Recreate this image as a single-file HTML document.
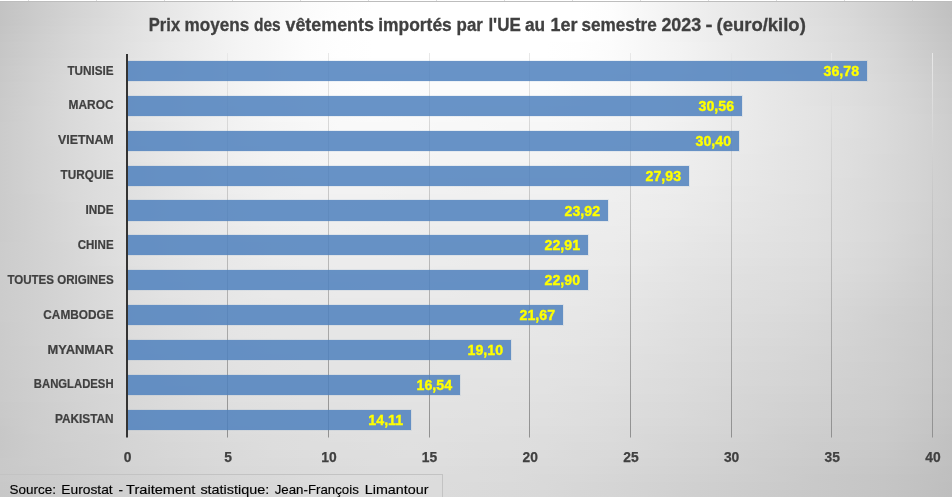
<!DOCTYPE html>
<html><head><meta charset="utf-8"><title>Chart</title>
<style>
html,body{margin:0;padding:0;background:#fff;}
body{width:952px;height:497px;overflow:hidden;font-family:"Liberation Sans",sans-serif;}
svg{display:block;}
text{font-family:"Liberation Sans",sans-serif;}
.t{font-weight:bold;font-size:17.6px;fill:#404040;stroke:#404040;stroke-width:0.3px;}
.c{font-weight:bold;font-size:12.1px;fill:#404040;stroke:#404040;stroke-width:0.2px;}
.d{font-weight:bold;font-size:14.2px;fill:#ffff00;stroke:#ffff00;stroke-width:0.35px;}
.a{font-weight:bold;font-size:13.8px;fill:#404040;stroke:#404040;stroke-width:0.25px;}
.s{font-size:13.4px;fill:#000;stroke:#000;stroke-width:0.15px;}
</style></head><body>
<svg width="952" height="497" viewBox="0 0 952 497">
<defs>
<radialGradient id="bg" gradientUnits="userSpaceOnUse" cx="0" cy="0" r="1" gradientTransform="translate(445 70) scale(560 900)">
<stop offset="0" stop-color="#ffffff"/><stop offset="0.2" stop-color="#ffffff"/><stop offset="0.8" stop-color="#c0c0c0"/><stop offset="1" stop-color="#b4b4b4"/>
</radialGradient>
<linearGradient id="gl" gradientUnits="userSpaceOnUse" x1="0" y1="53" x2="0" y2="437">
<stop offset="0" stop-color="#e8e8e8"/><stop offset="1" stop-color="#909090"/>
</linearGradient>
</defs>
<rect x="0" y="0" width="952" height="497" fill="#ffffff"/>
<defs>
<linearGradient id="b0" gradientUnits="userSpaceOnUse" x1="0" y1="0" x2="952" y2="0"><stop offset="0.0000" stop-color="#c2c2c2"/><stop offset="0.0357" stop-color="#cacaca"/><stop offset="0.0714" stop-color="#d2d2d2"/><stop offset="0.1071" stop-color="#d9d9d9"/><stop offset="0.1429" stop-color="#e0e0e0"/><stop offset="0.1786" stop-color="#e7e7e7"/><stop offset="0.2143" stop-color="#ededed"/><stop offset="0.2500" stop-color="#f3f3f3"/><stop offset="0.2857" stop-color="#f7f7f7"/><stop offset="0.3214" stop-color="#fbfbfb"/><stop offset="0.3571" stop-color="#fdfdfd"/><stop offset="0.3929" stop-color="#ffffff"/><stop offset="0.4286" stop-color="#ffffff"/><stop offset="0.4643" stop-color="#ffffff"/><stop offset="0.5000" stop-color="#ffffff"/><stop offset="0.5357" stop-color="#ffffff"/><stop offset="0.5714" stop-color="#ffffff"/><stop offset="0.6071" stop-color="#ffffff"/><stop offset="0.6429" stop-color="#fcfcfc"/><stop offset="0.6786" stop-color="#f6f6f6"/><stop offset="0.7143" stop-color="#f0f0f0"/><stop offset="0.7500" stop-color="#ebebeb"/><stop offset="0.7857" stop-color="#e7e7e7"/><stop offset="0.8214" stop-color="#e2e2e2"/><stop offset="0.8571" stop-color="#dddddd"/><stop offset="0.8929" stop-color="#d7d7d7"/><stop offset="0.9286" stop-color="#d0d0d0"/><stop offset="0.9643" stop-color="#c8c8c8"/><stop offset="1.0000" stop-color="#c0c0c0"/></linearGradient>
<linearGradient id="b1" gradientUnits="userSpaceOnUse" x1="0" y1="0" x2="952" y2="0"><stop offset="0.0000" stop-color="#c3c3c3"/><stop offset="0.0357" stop-color="#cbcbcb"/><stop offset="0.0714" stop-color="#d2d2d2"/><stop offset="0.1071" stop-color="#d9d9d9"/><stop offset="0.1429" stop-color="#e1e1e1"/><stop offset="0.1786" stop-color="#e7e7e7"/><stop offset="0.2143" stop-color="#eeeeee"/><stop offset="0.2500" stop-color="#f3f3f3"/><stop offset="0.2857" stop-color="#f8f8f8"/><stop offset="0.3214" stop-color="#fbfbfb"/><stop offset="0.3571" stop-color="#fefefe"/><stop offset="0.3929" stop-color="#ffffff"/><stop offset="0.4286" stop-color="#ffffff"/><stop offset="0.4643" stop-color="#ffffff"/><stop offset="0.5000" stop-color="#ffffff"/><stop offset="0.5357" stop-color="#ffffff"/><stop offset="0.5714" stop-color="#ffffff"/><stop offset="0.6071" stop-color="#ffffff"/><stop offset="0.6429" stop-color="#fdfdfd"/><stop offset="0.6786" stop-color="#f7f7f7"/><stop offset="0.7143" stop-color="#f1f1f1"/><stop offset="0.7500" stop-color="#ececec"/><stop offset="0.7857" stop-color="#e7e7e7"/><stop offset="0.8214" stop-color="#e2e2e2"/><stop offset="0.8571" stop-color="#dddddd"/><stop offset="0.8929" stop-color="#d8d8d8"/><stop offset="0.9286" stop-color="#d1d1d1"/><stop offset="0.9643" stop-color="#c9c9c9"/><stop offset="1.0000" stop-color="#c1c1c1"/></linearGradient>
<linearGradient id="b2" gradientUnits="userSpaceOnUse" x1="0" y1="0" x2="952" y2="0"><stop offset="0.0000" stop-color="#c3c3c3"/><stop offset="0.0357" stop-color="#cbcbcb"/><stop offset="0.0714" stop-color="#d3d3d3"/><stop offset="0.1071" stop-color="#dadada"/><stop offset="0.1429" stop-color="#e1e1e1"/><stop offset="0.1786" stop-color="#e8e8e8"/><stop offset="0.2143" stop-color="#eeeeee"/><stop offset="0.2500" stop-color="#f3f3f3"/><stop offset="0.2857" stop-color="#f8f8f8"/><stop offset="0.3214" stop-color="#fcfcfc"/><stop offset="0.3571" stop-color="#fefefe"/><stop offset="0.3929" stop-color="#ffffff"/><stop offset="0.4286" stop-color="#ffffff"/><stop offset="0.4643" stop-color="#ffffff"/><stop offset="0.5000" stop-color="#ffffff"/><stop offset="0.5357" stop-color="#ffffff"/><stop offset="0.5714" stop-color="#ffffff"/><stop offset="0.6071" stop-color="#ffffff"/><stop offset="0.6429" stop-color="#fdfdfd"/><stop offset="0.6786" stop-color="#f7f7f7"/><stop offset="0.7143" stop-color="#f1f1f1"/><stop offset="0.7500" stop-color="#ececec"/><stop offset="0.7857" stop-color="#e8e8e8"/><stop offset="0.8214" stop-color="#e3e3e3"/><stop offset="0.8571" stop-color="#dedede"/><stop offset="0.8929" stop-color="#d9d9d9"/><stop offset="0.9286" stop-color="#d2d2d2"/><stop offset="0.9643" stop-color="#cacaca"/><stop offset="1.0000" stop-color="#c2c2c2"/></linearGradient>
<linearGradient id="b3" gradientUnits="userSpaceOnUse" x1="0" y1="0" x2="952" y2="0"><stop offset="0.0000" stop-color="#c4c4c4"/><stop offset="0.0357" stop-color="#cccccc"/><stop offset="0.0714" stop-color="#d4d4d4"/><stop offset="0.1071" stop-color="#dbdbdb"/><stop offset="0.1429" stop-color="#e2e2e2"/><stop offset="0.1786" stop-color="#e8e8e8"/><stop offset="0.2143" stop-color="#eeeeee"/><stop offset="0.2500" stop-color="#f3f3f3"/><stop offset="0.2857" stop-color="#f8f8f8"/><stop offset="0.3214" stop-color="#fcfcfc"/><stop offset="0.3571" stop-color="#fefefe"/><stop offset="0.3929" stop-color="#ffffff"/><stop offset="0.4286" stop-color="#ffffff"/><stop offset="0.4643" stop-color="#ffffff"/><stop offset="0.5000" stop-color="#ffffff"/><stop offset="0.5357" stop-color="#ffffff"/><stop offset="0.5714" stop-color="#ffffff"/><stop offset="0.6071" stop-color="#ffffff"/><stop offset="0.6429" stop-color="#fdfdfd"/><stop offset="0.6786" stop-color="#f7f7f7"/><stop offset="0.7143" stop-color="#f2f2f2"/><stop offset="0.7500" stop-color="#ededed"/><stop offset="0.7857" stop-color="#e8e8e8"/><stop offset="0.8214" stop-color="#e3e3e3"/><stop offset="0.8571" stop-color="#dfdfdf"/><stop offset="0.8929" stop-color="#dadada"/><stop offset="0.9286" stop-color="#d3d3d3"/><stop offset="0.9643" stop-color="#cbcbcb"/><stop offset="1.0000" stop-color="#c3c3c3"/></linearGradient>
<linearGradient id="b4" gradientUnits="userSpaceOnUse" x1="0" y1="0" x2="952" y2="0"><stop offset="0.0000" stop-color="#c5c5c5"/><stop offset="0.0357" stop-color="#cdcdcd"/><stop offset="0.0714" stop-color="#d5d5d5"/><stop offset="0.1071" stop-color="#dcdcdc"/><stop offset="0.1429" stop-color="#e2e2e2"/><stop offset="0.1786" stop-color="#e8e8e8"/><stop offset="0.2143" stop-color="#eeeeee"/><stop offset="0.2500" stop-color="#f4f4f4"/><stop offset="0.2857" stop-color="#f8f8f8"/><stop offset="0.3214" stop-color="#fcfcfc"/><stop offset="0.3571" stop-color="#fefefe"/><stop offset="0.3929" stop-color="#ffffff"/><stop offset="0.4286" stop-color="#ffffff"/><stop offset="0.4643" stop-color="#ffffff"/><stop offset="0.5000" stop-color="#ffffff"/><stop offset="0.5357" stop-color="#ffffff"/><stop offset="0.5714" stop-color="#ffffff"/><stop offset="0.6071" stop-color="#ffffff"/><stop offset="0.6429" stop-color="#fcfcfc"/><stop offset="0.6786" stop-color="#f7f7f7"/><stop offset="0.7143" stop-color="#f2f2f2"/><stop offset="0.7500" stop-color="#ededed"/><stop offset="0.7857" stop-color="#e9e9e9"/><stop offset="0.8214" stop-color="#e4e4e4"/><stop offset="0.8571" stop-color="#dfdfdf"/><stop offset="0.8929" stop-color="#dadada"/><stop offset="0.9286" stop-color="#d4d4d4"/><stop offset="0.9643" stop-color="#cccccc"/><stop offset="1.0000" stop-color="#c4c4c4"/></linearGradient>
<linearGradient id="b5" gradientUnits="userSpaceOnUse" x1="0" y1="0" x2="952" y2="0"><stop offset="0.0000" stop-color="#c6c6c6"/><stop offset="0.0357" stop-color="#cecece"/><stop offset="0.0714" stop-color="#d5d5d5"/><stop offset="0.1071" stop-color="#dcdcdc"/><stop offset="0.1429" stop-color="#e3e3e3"/><stop offset="0.1786" stop-color="#e9e9e9"/><stop offset="0.2143" stop-color="#eeeeee"/><stop offset="0.2500" stop-color="#f4f4f4"/><stop offset="0.2857" stop-color="#f8f8f8"/><stop offset="0.3214" stop-color="#fcfcfc"/><stop offset="0.3571" stop-color="#fefefe"/><stop offset="0.3929" stop-color="#ffffff"/><stop offset="0.4286" stop-color="#ffffff"/><stop offset="0.4643" stop-color="#ffffff"/><stop offset="0.5000" stop-color="#ffffff"/><stop offset="0.5357" stop-color="#ffffff"/><stop offset="0.5714" stop-color="#ffffff"/><stop offset="0.6071" stop-color="#fefefe"/><stop offset="0.6429" stop-color="#fcfcfc"/><stop offset="0.6786" stop-color="#f7f7f7"/><stop offset="0.7143" stop-color="#f3f3f3"/><stop offset="0.7500" stop-color="#eeeeee"/><stop offset="0.7857" stop-color="#e9e9e9"/><stop offset="0.8214" stop-color="#e4e4e4"/><stop offset="0.8571" stop-color="#e0e0e0"/><stop offset="0.8929" stop-color="#dbdbdb"/><stop offset="0.9286" stop-color="#d5d5d5"/><stop offset="0.9643" stop-color="#cdcdcd"/><stop offset="1.0000" stop-color="#c5c5c5"/></linearGradient>
<linearGradient id="b6" gradientUnits="userSpaceOnUse" x1="0" y1="0" x2="952" y2="0"><stop offset="0.0000" stop-color="#c6c6c6"/><stop offset="0.0357" stop-color="#cecece"/><stop offset="0.0714" stop-color="#d6d6d6"/><stop offset="0.1071" stop-color="#dddddd"/><stop offset="0.1429" stop-color="#e3e3e3"/><stop offset="0.1786" stop-color="#e9e9e9"/><stop offset="0.2143" stop-color="#efefef"/><stop offset="0.2500" stop-color="#f4f4f4"/><stop offset="0.2857" stop-color="#f8f8f8"/><stop offset="0.3214" stop-color="#fcfcfc"/><stop offset="0.3571" stop-color="#fefefe"/><stop offset="0.3929" stop-color="#ffffff"/><stop offset="0.4286" stop-color="#ffffff"/><stop offset="0.4643" stop-color="#ffffff"/><stop offset="0.5000" stop-color="#ffffff"/><stop offset="0.5357" stop-color="#ffffff"/><stop offset="0.5714" stop-color="#ffffff"/><stop offset="0.6071" stop-color="#fefefe"/><stop offset="0.6429" stop-color="#fbfbfb"/><stop offset="0.6786" stop-color="#f7f7f7"/><stop offset="0.7143" stop-color="#f3f3f3"/><stop offset="0.7500" stop-color="#eeeeee"/><stop offset="0.7857" stop-color="#e9e9e9"/><stop offset="0.8214" stop-color="#e5e5e5"/><stop offset="0.8571" stop-color="#e0e0e0"/><stop offset="0.8929" stop-color="#dcdcdc"/><stop offset="0.9286" stop-color="#d6d6d6"/><stop offset="0.9643" stop-color="#cecece"/><stop offset="1.0000" stop-color="#c7c7c7"/></linearGradient>
<linearGradient id="b7" gradientUnits="userSpaceOnUse" x1="0" y1="0" x2="952" y2="0"><stop offset="0.0000" stop-color="#c7c7c7"/><stop offset="0.0357" stop-color="#cfcfcf"/><stop offset="0.0714" stop-color="#d7d7d7"/><stop offset="0.1071" stop-color="#dedede"/><stop offset="0.1429" stop-color="#e4e4e4"/><stop offset="0.1786" stop-color="#e9e9e9"/><stop offset="0.2143" stop-color="#efefef"/><stop offset="0.2500" stop-color="#f4f4f4"/><stop offset="0.2857" stop-color="#f8f8f8"/><stop offset="0.3214" stop-color="#fcfcfc"/><stop offset="0.3571" stop-color="#fdfdfd"/><stop offset="0.3929" stop-color="#fefefe"/><stop offset="0.4286" stop-color="#fefefe"/><stop offset="0.4643" stop-color="#fefefe"/><stop offset="0.5000" stop-color="#fefefe"/><stop offset="0.5357" stop-color="#fefefe"/><stop offset="0.5714" stop-color="#fefefe"/><stop offset="0.6071" stop-color="#fdfdfd"/><stop offset="0.6429" stop-color="#fbfbfb"/><stop offset="0.6786" stop-color="#f7f7f7"/><stop offset="0.7143" stop-color="#f3f3f3"/><stop offset="0.7500" stop-color="#eeeeee"/><stop offset="0.7857" stop-color="#eaeaea"/><stop offset="0.8214" stop-color="#e5e5e5"/><stop offset="0.8571" stop-color="#e1e1e1"/><stop offset="0.8929" stop-color="#dddddd"/><stop offset="0.9286" stop-color="#d7d7d7"/><stop offset="0.9643" stop-color="#cfcfcf"/><stop offset="1.0000" stop-color="#c8c8c8"/></linearGradient>
<linearGradient id="b8" gradientUnits="userSpaceOnUse" x1="0" y1="0" x2="952" y2="0"><stop offset="0.0000" stop-color="#c8c8c8"/><stop offset="0.0357" stop-color="#d0d0d0"/><stop offset="0.0714" stop-color="#d7d7d7"/><stop offset="0.1071" stop-color="#dedede"/><stop offset="0.1429" stop-color="#e4e4e4"/><stop offset="0.1786" stop-color="#e9e9e9"/><stop offset="0.2143" stop-color="#efefef"/><stop offset="0.2500" stop-color="#f4f4f4"/><stop offset="0.2857" stop-color="#f8f8f8"/><stop offset="0.3214" stop-color="#fbfbfb"/><stop offset="0.3571" stop-color="#fdfdfd"/><stop offset="0.3929" stop-color="#fefefe"/><stop offset="0.4286" stop-color="#fefefe"/><stop offset="0.4643" stop-color="#fdfdfd"/><stop offset="0.5000" stop-color="#fdfdfd"/><stop offset="0.5357" stop-color="#fdfdfd"/><stop offset="0.5714" stop-color="#fdfdfd"/><stop offset="0.6071" stop-color="#fcfcfc"/><stop offset="0.6429" stop-color="#fafafa"/><stop offset="0.6786" stop-color="#f7f7f7"/><stop offset="0.7143" stop-color="#f3f3f3"/><stop offset="0.7500" stop-color="#eeeeee"/><stop offset="0.7857" stop-color="#eaeaea"/><stop offset="0.8214" stop-color="#e5e5e5"/><stop offset="0.8571" stop-color="#e1e1e1"/><stop offset="0.8929" stop-color="#dddddd"/><stop offset="0.9286" stop-color="#d7d7d7"/><stop offset="0.9643" stop-color="#d0d0d0"/><stop offset="1.0000" stop-color="#c9c9c9"/></linearGradient>
<linearGradient id="b9" gradientUnits="userSpaceOnUse" x1="0" y1="0" x2="952" y2="0"><stop offset="0.0000" stop-color="#c8c8c8"/><stop offset="0.0357" stop-color="#d0d0d0"/><stop offset="0.0714" stop-color="#d8d8d8"/><stop offset="0.1071" stop-color="#dfdfdf"/><stop offset="0.1429" stop-color="#e4e4e4"/><stop offset="0.1786" stop-color="#eaeaea"/><stop offset="0.2143" stop-color="#efefef"/><stop offset="0.2500" stop-color="#f4f4f4"/><stop offset="0.2857" stop-color="#f8f8f8"/><stop offset="0.3214" stop-color="#fbfbfb"/><stop offset="0.3571" stop-color="#fdfdfd"/><stop offset="0.3929" stop-color="#fdfdfd"/><stop offset="0.4286" stop-color="#fdfdfd"/><stop offset="0.4643" stop-color="#fdfdfd"/><stop offset="0.5000" stop-color="#fcfcfc"/><stop offset="0.5357" stop-color="#fdfdfd"/><stop offset="0.5714" stop-color="#fcfcfc"/><stop offset="0.6071" stop-color="#fbfbfb"/><stop offset="0.6429" stop-color="#f9f9f9"/><stop offset="0.6786" stop-color="#f6f6f6"/><stop offset="0.7143" stop-color="#f2f2f2"/><stop offset="0.7500" stop-color="#eeeeee"/><stop offset="0.7857" stop-color="#eaeaea"/><stop offset="0.8214" stop-color="#e6e6e6"/><stop offset="0.8571" stop-color="#e2e2e2"/><stop offset="0.8929" stop-color="#dedede"/><stop offset="0.9286" stop-color="#d8d8d8"/><stop offset="0.9643" stop-color="#d1d1d1"/><stop offset="1.0000" stop-color="#cacaca"/></linearGradient>
<linearGradient id="b10" gradientUnits="userSpaceOnUse" x1="0" y1="0" x2="952" y2="0"><stop offset="0.0000" stop-color="#c9c9c9"/><stop offset="0.0357" stop-color="#d1d1d1"/><stop offset="0.0714" stop-color="#d8d8d8"/><stop offset="0.1071" stop-color="#dfdfdf"/><stop offset="0.1429" stop-color="#e5e5e5"/><stop offset="0.1786" stop-color="#eaeaea"/><stop offset="0.2143" stop-color="#efefef"/><stop offset="0.2500" stop-color="#f3f3f3"/><stop offset="0.2857" stop-color="#f7f7f7"/><stop offset="0.3214" stop-color="#fafafa"/><stop offset="0.3571" stop-color="#fcfcfc"/><stop offset="0.3929" stop-color="#fdfdfd"/><stop offset="0.4286" stop-color="#fcfcfc"/><stop offset="0.4643" stop-color="#fcfcfc"/><stop offset="0.5000" stop-color="#fcfcfc"/><stop offset="0.5357" stop-color="#fcfcfc"/><stop offset="0.5714" stop-color="#fcfcfc"/><stop offset="0.6071" stop-color="#fafafa"/><stop offset="0.6429" stop-color="#f8f8f8"/><stop offset="0.6786" stop-color="#f6f6f6"/><stop offset="0.7143" stop-color="#f2f2f2"/><stop offset="0.7500" stop-color="#eeeeee"/><stop offset="0.7857" stop-color="#eaeaea"/><stop offset="0.8214" stop-color="#e6e6e6"/><stop offset="0.8571" stop-color="#e2e2e2"/><stop offset="0.8929" stop-color="#dedede"/><stop offset="0.9286" stop-color="#d9d9d9"/><stop offset="0.9643" stop-color="#d2d2d2"/><stop offset="1.0000" stop-color="#cbcbcb"/></linearGradient>
<linearGradient id="b11" gradientUnits="userSpaceOnUse" x1="0" y1="0" x2="952" y2="0"><stop offset="0.0000" stop-color="#c9c9c9"/><stop offset="0.0357" stop-color="#d1d1d1"/><stop offset="0.0714" stop-color="#d9d9d9"/><stop offset="0.1071" stop-color="#dfdfdf"/><stop offset="0.1429" stop-color="#e5e5e5"/><stop offset="0.1786" stop-color="#eaeaea"/><stop offset="0.2143" stop-color="#efefef"/><stop offset="0.2500" stop-color="#f3f3f3"/><stop offset="0.2857" stop-color="#f7f7f7"/><stop offset="0.3214" stop-color="#fafafa"/><stop offset="0.3571" stop-color="#fbfbfb"/><stop offset="0.3929" stop-color="#fcfcfc"/><stop offset="0.4286" stop-color="#fcfcfc"/><stop offset="0.4643" stop-color="#fbfbfb"/><stop offset="0.5000" stop-color="#fbfbfb"/><stop offset="0.5357" stop-color="#fbfbfb"/><stop offset="0.5714" stop-color="#fbfbfb"/><stop offset="0.6071" stop-color="#f9f9f9"/><stop offset="0.6429" stop-color="#f7f7f7"/><stop offset="0.6786" stop-color="#f5f5f5"/><stop offset="0.7143" stop-color="#f2f2f2"/><stop offset="0.7500" stop-color="#eeeeee"/><stop offset="0.7857" stop-color="#eaeaea"/><stop offset="0.8214" stop-color="#e6e6e6"/><stop offset="0.8571" stop-color="#e2e2e2"/><stop offset="0.8929" stop-color="#dedede"/><stop offset="0.9286" stop-color="#d9d9d9"/><stop offset="0.9643" stop-color="#d2d2d2"/><stop offset="1.0000" stop-color="#cbcbcb"/></linearGradient>
<linearGradient id="b12" gradientUnits="userSpaceOnUse" x1="0" y1="0" x2="952" y2="0"><stop offset="0.0000" stop-color="#cacaca"/><stop offset="0.0357" stop-color="#d1d1d1"/><stop offset="0.0714" stop-color="#d9d9d9"/><stop offset="0.1071" stop-color="#dfdfdf"/><stop offset="0.1429" stop-color="#e5e5e5"/><stop offset="0.1786" stop-color="#eaeaea"/><stop offset="0.2143" stop-color="#eeeeee"/><stop offset="0.2500" stop-color="#f3f3f3"/><stop offset="0.2857" stop-color="#f7f7f7"/><stop offset="0.3214" stop-color="#f9f9f9"/><stop offset="0.3571" stop-color="#fbfbfb"/><stop offset="0.3929" stop-color="#fbfbfb"/><stop offset="0.4286" stop-color="#fbfbfb"/><stop offset="0.4643" stop-color="#fafafa"/><stop offset="0.5000" stop-color="#fafafa"/><stop offset="0.5357" stop-color="#fafafa"/><stop offset="0.5714" stop-color="#fafafa"/><stop offset="0.6071" stop-color="#f8f8f8"/><stop offset="0.6429" stop-color="#f6f6f6"/><stop offset="0.6786" stop-color="#f4f4f4"/><stop offset="0.7143" stop-color="#f1f1f1"/><stop offset="0.7500" stop-color="#eeeeee"/><stop offset="0.7857" stop-color="#eaeaea"/><stop offset="0.8214" stop-color="#e6e6e6"/><stop offset="0.8571" stop-color="#e2e2e2"/><stop offset="0.8929" stop-color="#dedede"/><stop offset="0.9286" stop-color="#d9d9d9"/><stop offset="0.9643" stop-color="#d3d3d3"/><stop offset="1.0000" stop-color="#cccccc"/></linearGradient>
<linearGradient id="b13" gradientUnits="userSpaceOnUse" x1="0" y1="0" x2="952" y2="0"><stop offset="0.0000" stop-color="#cacaca"/><stop offset="0.0357" stop-color="#d2d2d2"/><stop offset="0.0714" stop-color="#d9d9d9"/><stop offset="0.1071" stop-color="#dfdfdf"/><stop offset="0.1429" stop-color="#e5e5e5"/><stop offset="0.1786" stop-color="#eaeaea"/><stop offset="0.2143" stop-color="#eeeeee"/><stop offset="0.2500" stop-color="#f2f2f2"/><stop offset="0.2857" stop-color="#f6f6f6"/><stop offset="0.3214" stop-color="#f9f9f9"/><stop offset="0.3571" stop-color="#fafafa"/><stop offset="0.3929" stop-color="#fafafa"/><stop offset="0.4286" stop-color="#fafafa"/><stop offset="0.4643" stop-color="#fafafa"/><stop offset="0.5000" stop-color="#f9f9f9"/><stop offset="0.5357" stop-color="#f9f9f9"/><stop offset="0.5714" stop-color="#f9f9f9"/><stop offset="0.6071" stop-color="#f7f7f7"/><stop offset="0.6429" stop-color="#f6f6f6"/><stop offset="0.6786" stop-color="#f4f4f4"/><stop offset="0.7143" stop-color="#f1f1f1"/><stop offset="0.7500" stop-color="#eeeeee"/><stop offset="0.7857" stop-color="#eaeaea"/><stop offset="0.8214" stop-color="#e6e6e6"/><stop offset="0.8571" stop-color="#e3e3e3"/><stop offset="0.8929" stop-color="#dfdfdf"/><stop offset="0.9286" stop-color="#dadada"/><stop offset="0.9643" stop-color="#d3d3d3"/><stop offset="1.0000" stop-color="#cccccc"/></linearGradient>
<linearGradient id="b14" gradientUnits="userSpaceOnUse" x1="0" y1="0" x2="952" y2="0"><stop offset="0.0000" stop-color="#cacaca"/><stop offset="0.0357" stop-color="#d2d2d2"/><stop offset="0.0714" stop-color="#d9d9d9"/><stop offset="0.1071" stop-color="#dfdfdf"/><stop offset="0.1429" stop-color="#e5e5e5"/><stop offset="0.1786" stop-color="#eaeaea"/><stop offset="0.2143" stop-color="#eeeeee"/><stop offset="0.2500" stop-color="#f2f2f2"/><stop offset="0.2857" stop-color="#f6f6f6"/><stop offset="0.3214" stop-color="#f8f8f8"/><stop offset="0.3571" stop-color="#f9f9f9"/><stop offset="0.3929" stop-color="#fafafa"/><stop offset="0.4286" stop-color="#f9f9f9"/><stop offset="0.4643" stop-color="#f9f9f9"/><stop offset="0.5000" stop-color="#f8f8f8"/><stop offset="0.5357" stop-color="#f8f8f8"/><stop offset="0.5714" stop-color="#f8f8f8"/><stop offset="0.6071" stop-color="#f7f7f7"/><stop offset="0.6429" stop-color="#f5f5f5"/><stop offset="0.6786" stop-color="#f3f3f3"/><stop offset="0.7143" stop-color="#f1f1f1"/><stop offset="0.7500" stop-color="#ededed"/><stop offset="0.7857" stop-color="#eaeaea"/><stop offset="0.8214" stop-color="#e6e6e6"/><stop offset="0.8571" stop-color="#e3e3e3"/><stop offset="0.8929" stop-color="#dfdfdf"/><stop offset="0.9286" stop-color="#dadada"/><stop offset="0.9643" stop-color="#d4d4d4"/><stop offset="1.0000" stop-color="#cdcdcd"/></linearGradient>
<linearGradient id="b15" gradientUnits="userSpaceOnUse" x1="0" y1="0" x2="952" y2="0"><stop offset="0.0000" stop-color="#cbcbcb"/><stop offset="0.0357" stop-color="#d2d2d2"/><stop offset="0.0714" stop-color="#d9d9d9"/><stop offset="0.1071" stop-color="#dfdfdf"/><stop offset="0.1429" stop-color="#e4e4e4"/><stop offset="0.1786" stop-color="#e9e9e9"/><stop offset="0.2143" stop-color="#eeeeee"/><stop offset="0.2500" stop-color="#f2f2f2"/><stop offset="0.2857" stop-color="#f5f5f5"/><stop offset="0.3214" stop-color="#f7f7f7"/><stop offset="0.3571" stop-color="#f9f9f9"/><stop offset="0.3929" stop-color="#f9f9f9"/><stop offset="0.4286" stop-color="#f9f9f9"/><stop offset="0.4643" stop-color="#f8f8f8"/><stop offset="0.5000" stop-color="#f8f8f8"/><stop offset="0.5357" stop-color="#f7f7f7"/><stop offset="0.5714" stop-color="#f7f7f7"/><stop offset="0.6071" stop-color="#f6f6f6"/><stop offset="0.6429" stop-color="#f4f4f4"/><stop offset="0.6786" stop-color="#f3f3f3"/><stop offset="0.7143" stop-color="#f0f0f0"/><stop offset="0.7500" stop-color="#ededed"/><stop offset="0.7857" stop-color="#eaeaea"/><stop offset="0.8214" stop-color="#e6e6e6"/><stop offset="0.8571" stop-color="#e3e3e3"/><stop offset="0.8929" stop-color="#dfdfdf"/><stop offset="0.9286" stop-color="#dadada"/><stop offset="0.9643" stop-color="#d4d4d4"/><stop offset="1.0000" stop-color="#cdcdcd"/></linearGradient>
<linearGradient id="b16" gradientUnits="userSpaceOnUse" x1="0" y1="0" x2="952" y2="0"><stop offset="0.0000" stop-color="#cbcbcb"/><stop offset="0.0357" stop-color="#d2d2d2"/><stop offset="0.0714" stop-color="#d9d9d9"/><stop offset="0.1071" stop-color="#dfdfdf"/><stop offset="0.1429" stop-color="#e4e4e4"/><stop offset="0.1786" stop-color="#e9e9e9"/><stop offset="0.2143" stop-color="#ededed"/><stop offset="0.2500" stop-color="#f1f1f1"/><stop offset="0.2857" stop-color="#f4f4f4"/><stop offset="0.3214" stop-color="#f7f7f7"/><stop offset="0.3571" stop-color="#f8f8f8"/><stop offset="0.3929" stop-color="#f8f8f8"/><stop offset="0.4286" stop-color="#f8f8f8"/><stop offset="0.4643" stop-color="#f7f7f7"/><stop offset="0.5000" stop-color="#f7f7f7"/><stop offset="0.5357" stop-color="#f7f7f7"/><stop offset="0.5714" stop-color="#f6f6f6"/><stop offset="0.6071" stop-color="#f5f5f5"/><stop offset="0.6429" stop-color="#f4f4f4"/><stop offset="0.6786" stop-color="#f2f2f2"/><stop offset="0.7143" stop-color="#f0f0f0"/><stop offset="0.7500" stop-color="#ededed"/><stop offset="0.7857" stop-color="#e9e9e9"/><stop offset="0.8214" stop-color="#e6e6e6"/><stop offset="0.8571" stop-color="#e2e2e2"/><stop offset="0.8929" stop-color="#dfdfdf"/><stop offset="0.9286" stop-color="#dadada"/><stop offset="0.9643" stop-color="#d4d4d4"/><stop offset="1.0000" stop-color="#cecece"/></linearGradient>
<linearGradient id="b17" gradientUnits="userSpaceOnUse" x1="0" y1="0" x2="952" y2="0"><stop offset="0.0000" stop-color="#cbcbcb"/><stop offset="0.0357" stop-color="#d2d2d2"/><stop offset="0.0714" stop-color="#d9d9d9"/><stop offset="0.1071" stop-color="#dfdfdf"/><stop offset="0.1429" stop-color="#e4e4e4"/><stop offset="0.1786" stop-color="#e9e9e9"/><stop offset="0.2143" stop-color="#ededed"/><stop offset="0.2500" stop-color="#f1f1f1"/><stop offset="0.2857" stop-color="#f4f4f4"/><stop offset="0.3214" stop-color="#f6f6f6"/><stop offset="0.3571" stop-color="#f7f7f7"/><stop offset="0.3929" stop-color="#f7f7f7"/><stop offset="0.4286" stop-color="#f7f7f7"/><stop offset="0.4643" stop-color="#f6f6f6"/><stop offset="0.5000" stop-color="#f6f6f6"/><stop offset="0.5357" stop-color="#f6f6f6"/><stop offset="0.5714" stop-color="#f5f5f5"/><stop offset="0.6071" stop-color="#f4f4f4"/><stop offset="0.6429" stop-color="#f3f3f3"/><stop offset="0.6786" stop-color="#f1f1f1"/><stop offset="0.7143" stop-color="#efefef"/><stop offset="0.7500" stop-color="#ececec"/><stop offset="0.7857" stop-color="#e9e9e9"/><stop offset="0.8214" stop-color="#e6e6e6"/><stop offset="0.8571" stop-color="#e2e2e2"/><stop offset="0.8929" stop-color="#dedede"/><stop offset="0.9286" stop-color="#dadada"/><stop offset="0.9643" stop-color="#d4d4d4"/><stop offset="1.0000" stop-color="#cecece"/></linearGradient>
<linearGradient id="b18" gradientUnits="userSpaceOnUse" x1="0" y1="0" x2="952" y2="0"><stop offset="0.0000" stop-color="#cbcbcb"/><stop offset="0.0357" stop-color="#d2d2d2"/><stop offset="0.0714" stop-color="#d8d8d8"/><stop offset="0.1071" stop-color="#dedede"/><stop offset="0.1429" stop-color="#e3e3e3"/><stop offset="0.1786" stop-color="#e8e8e8"/><stop offset="0.2143" stop-color="#ededed"/><stop offset="0.2500" stop-color="#f0f0f0"/><stop offset="0.2857" stop-color="#f3f3f3"/><stop offset="0.3214" stop-color="#f5f5f5"/><stop offset="0.3571" stop-color="#f6f6f6"/><stop offset="0.3929" stop-color="#f6f6f6"/><stop offset="0.4286" stop-color="#f6f6f6"/><stop offset="0.4643" stop-color="#f5f5f5"/><stop offset="0.5000" stop-color="#f5f5f5"/><stop offset="0.5357" stop-color="#f5f5f5"/><stop offset="0.5714" stop-color="#f4f4f4"/><stop offset="0.6071" stop-color="#f4f4f4"/><stop offset="0.6429" stop-color="#f2f2f2"/><stop offset="0.6786" stop-color="#f1f1f1"/><stop offset="0.7143" stop-color="#efefef"/><stop offset="0.7500" stop-color="#ececec"/><stop offset="0.7857" stop-color="#e9e9e9"/><stop offset="0.8214" stop-color="#e5e5e5"/><stop offset="0.8571" stop-color="#e2e2e2"/><stop offset="0.8929" stop-color="#dedede"/><stop offset="0.9286" stop-color="#dadada"/><stop offset="0.9643" stop-color="#d4d4d4"/><stop offset="1.0000" stop-color="#cecece"/></linearGradient>
<linearGradient id="b19" gradientUnits="userSpaceOnUse" x1="0" y1="0" x2="952" y2="0"><stop offset="0.0000" stop-color="#cbcbcb"/><stop offset="0.0357" stop-color="#d2d2d2"/><stop offset="0.0714" stop-color="#d8d8d8"/><stop offset="0.1071" stop-color="#dedede"/><stop offset="0.1429" stop-color="#e3e3e3"/><stop offset="0.1786" stop-color="#e8e8e8"/><stop offset="0.2143" stop-color="#ececec"/><stop offset="0.2500" stop-color="#f0f0f0"/><stop offset="0.2857" stop-color="#f3f3f3"/><stop offset="0.3214" stop-color="#f4f4f4"/><stop offset="0.3571" stop-color="#f5f5f5"/><stop offset="0.3929" stop-color="#f5f5f5"/><stop offset="0.4286" stop-color="#f5f5f5"/><stop offset="0.4643" stop-color="#f4f4f4"/><stop offset="0.5000" stop-color="#f4f4f4"/><stop offset="0.5357" stop-color="#f4f4f4"/><stop offset="0.5714" stop-color="#f4f4f4"/><stop offset="0.6071" stop-color="#f3f3f3"/><stop offset="0.6429" stop-color="#f2f2f2"/><stop offset="0.6786" stop-color="#f0f0f0"/><stop offset="0.7143" stop-color="#eeeeee"/><stop offset="0.7500" stop-color="#ebebeb"/><stop offset="0.7857" stop-color="#e8e8e8"/><stop offset="0.8214" stop-color="#e5e5e5"/><stop offset="0.8571" stop-color="#e2e2e2"/><stop offset="0.8929" stop-color="#dedede"/><stop offset="0.9286" stop-color="#d9d9d9"/><stop offset="0.9643" stop-color="#d4d4d4"/><stop offset="1.0000" stop-color="#cecece"/></linearGradient>
<linearGradient id="b20" gradientUnits="userSpaceOnUse" x1="0" y1="0" x2="952" y2="0"><stop offset="0.0000" stop-color="#cbcbcb"/><stop offset="0.0357" stop-color="#d2d2d2"/><stop offset="0.0714" stop-color="#d8d8d8"/><stop offset="0.1071" stop-color="#dedede"/><stop offset="0.1429" stop-color="#e2e2e2"/><stop offset="0.1786" stop-color="#e7e7e7"/><stop offset="0.2143" stop-color="#ececec"/><stop offset="0.2500" stop-color="#efefef"/><stop offset="0.2857" stop-color="#f2f2f2"/><stop offset="0.3214" stop-color="#f4f4f4"/><stop offset="0.3571" stop-color="#f5f5f5"/><stop offset="0.3929" stop-color="#f5f5f5"/><stop offset="0.4286" stop-color="#f4f4f4"/><stop offset="0.4643" stop-color="#f4f4f4"/><stop offset="0.5000" stop-color="#f3f3f3"/><stop offset="0.5357" stop-color="#f3f3f3"/><stop offset="0.5714" stop-color="#f3f3f3"/><stop offset="0.6071" stop-color="#f2f2f2"/><stop offset="0.6429" stop-color="#f1f1f1"/><stop offset="0.6786" stop-color="#f0f0f0"/><stop offset="0.7143" stop-color="#eeeeee"/><stop offset="0.7500" stop-color="#ebebeb"/><stop offset="0.7857" stop-color="#e8e8e8"/><stop offset="0.8214" stop-color="#e5e5e5"/><stop offset="0.8571" stop-color="#e2e2e2"/><stop offset="0.8929" stop-color="#dedede"/><stop offset="0.9286" stop-color="#d9d9d9"/><stop offset="0.9643" stop-color="#d4d4d4"/><stop offset="1.0000" stop-color="#cecece"/></linearGradient>
<linearGradient id="b21" gradientUnits="userSpaceOnUse" x1="0" y1="0" x2="952" y2="0"><stop offset="0.0000" stop-color="#cbcbcb"/><stop offset="0.0357" stop-color="#d2d2d2"/><stop offset="0.0714" stop-color="#d8d8d8"/><stop offset="0.1071" stop-color="#dddddd"/><stop offset="0.1429" stop-color="#e2e2e2"/><stop offset="0.1786" stop-color="#e7e7e7"/><stop offset="0.2143" stop-color="#ebebeb"/><stop offset="0.2500" stop-color="#efefef"/><stop offset="0.2857" stop-color="#f1f1f1"/><stop offset="0.3214" stop-color="#f3f3f3"/><stop offset="0.3571" stop-color="#f4f4f4"/><stop offset="0.3929" stop-color="#f4f4f4"/><stop offset="0.4286" stop-color="#f3f3f3"/><stop offset="0.4643" stop-color="#f3f3f3"/><stop offset="0.5000" stop-color="#f2f2f2"/><stop offset="0.5357" stop-color="#f2f2f2"/><stop offset="0.5714" stop-color="#f2f2f2"/><stop offset="0.6071" stop-color="#f2f2f2"/><stop offset="0.6429" stop-color="#f1f1f1"/><stop offset="0.6786" stop-color="#efefef"/><stop offset="0.7143" stop-color="#ededed"/><stop offset="0.7500" stop-color="#eaeaea"/><stop offset="0.7857" stop-color="#e7e7e7"/><stop offset="0.8214" stop-color="#e4e4e4"/><stop offset="0.8571" stop-color="#e1e1e1"/><stop offset="0.8929" stop-color="#dedede"/><stop offset="0.9286" stop-color="#d9d9d9"/><stop offset="0.9643" stop-color="#d4d4d4"/><stop offset="1.0000" stop-color="#cecece"/></linearGradient>
<linearGradient id="b22" gradientUnits="userSpaceOnUse" x1="0" y1="0" x2="952" y2="0"><stop offset="0.0000" stop-color="#cbcbcb"/><stop offset="0.0357" stop-color="#d2d2d2"/><stop offset="0.0714" stop-color="#d8d8d8"/><stop offset="0.1071" stop-color="#dddddd"/><stop offset="0.1429" stop-color="#e2e2e2"/><stop offset="0.1786" stop-color="#e7e7e7"/><stop offset="0.2143" stop-color="#ebebeb"/><stop offset="0.2500" stop-color="#eeeeee"/><stop offset="0.2857" stop-color="#f1f1f1"/><stop offset="0.3214" stop-color="#f2f2f2"/><stop offset="0.3571" stop-color="#f3f3f3"/><stop offset="0.3929" stop-color="#f3f3f3"/><stop offset="0.4286" stop-color="#f2f2f2"/><stop offset="0.4643" stop-color="#f2f2f2"/><stop offset="0.5000" stop-color="#f1f1f1"/><stop offset="0.5357" stop-color="#f1f1f1"/><stop offset="0.5714" stop-color="#f1f1f1"/><stop offset="0.6071" stop-color="#f1f1f1"/><stop offset="0.6429" stop-color="#f0f0f0"/><stop offset="0.6786" stop-color="#efefef"/><stop offset="0.7143" stop-color="#ededed"/><stop offset="0.7500" stop-color="#eaeaea"/><stop offset="0.7857" stop-color="#e7e7e7"/><stop offset="0.8214" stop-color="#e4e4e4"/><stop offset="0.8571" stop-color="#e1e1e1"/><stop offset="0.8929" stop-color="#dddddd"/><stop offset="0.9286" stop-color="#d9d9d9"/><stop offset="0.9643" stop-color="#d4d4d4"/><stop offset="1.0000" stop-color="#cecece"/></linearGradient>
<linearGradient id="b23" gradientUnits="userSpaceOnUse" x1="0" y1="0" x2="952" y2="0"><stop offset="0.0000" stop-color="#cbcbcb"/><stop offset="0.0357" stop-color="#d2d2d2"/><stop offset="0.0714" stop-color="#d8d8d8"/><stop offset="0.1071" stop-color="#dddddd"/><stop offset="0.1429" stop-color="#e1e1e1"/><stop offset="0.1786" stop-color="#e6e6e6"/><stop offset="0.2143" stop-color="#ebebeb"/><stop offset="0.2500" stop-color="#eeeeee"/><stop offset="0.2857" stop-color="#f0f0f0"/><stop offset="0.3214" stop-color="#f2f2f2"/><stop offset="0.3571" stop-color="#f2f2f2"/><stop offset="0.3929" stop-color="#f2f2f2"/><stop offset="0.4286" stop-color="#f1f1f1"/><stop offset="0.4643" stop-color="#f1f1f1"/><stop offset="0.5000" stop-color="#f0f0f0"/><stop offset="0.5357" stop-color="#f1f1f1"/><stop offset="0.5714" stop-color="#f1f1f1"/><stop offset="0.6071" stop-color="#f0f0f0"/><stop offset="0.6429" stop-color="#efefef"/><stop offset="0.6786" stop-color="#eeeeee"/><stop offset="0.7143" stop-color="#ececec"/><stop offset="0.7500" stop-color="#e9e9e9"/><stop offset="0.7857" stop-color="#e6e6e6"/><stop offset="0.8214" stop-color="#e4e4e4"/><stop offset="0.8571" stop-color="#e1e1e1"/><stop offset="0.8929" stop-color="#dddddd"/><stop offset="0.9286" stop-color="#d9d9d9"/><stop offset="0.9643" stop-color="#d4d4d4"/><stop offset="1.0000" stop-color="#cecece"/></linearGradient>
<linearGradient id="b24" gradientUnits="userSpaceOnUse" x1="0" y1="0" x2="952" y2="0"><stop offset="0.0000" stop-color="#cbcbcb"/><stop offset="0.0357" stop-color="#d1d1d1"/><stop offset="0.0714" stop-color="#d8d8d8"/><stop offset="0.1071" stop-color="#dddddd"/><stop offset="0.1429" stop-color="#e1e1e1"/><stop offset="0.1786" stop-color="#e6e6e6"/><stop offset="0.2143" stop-color="#eaeaea"/><stop offset="0.2500" stop-color="#ededed"/><stop offset="0.2857" stop-color="#f0f0f0"/><stop offset="0.3214" stop-color="#f1f1f1"/><stop offset="0.3571" stop-color="#f1f1f1"/><stop offset="0.3929" stop-color="#f1f1f1"/><stop offset="0.4286" stop-color="#f0f0f0"/><stop offset="0.4643" stop-color="#f0f0f0"/><stop offset="0.5000" stop-color="#f0f0f0"/><stop offset="0.5357" stop-color="#f0f0f0"/><stop offset="0.5714" stop-color="#f0f0f0"/><stop offset="0.6071" stop-color="#f0f0f0"/><stop offset="0.6429" stop-color="#efefef"/><stop offset="0.6786" stop-color="#ededed"/><stop offset="0.7143" stop-color="#ebebeb"/><stop offset="0.7500" stop-color="#e9e9e9"/><stop offset="0.7857" stop-color="#e6e6e6"/><stop offset="0.8214" stop-color="#e3e3e3"/><stop offset="0.8571" stop-color="#e0e0e0"/><stop offset="0.8929" stop-color="#dddddd"/><stop offset="0.9286" stop-color="#d9d9d9"/><stop offset="0.9643" stop-color="#d4d4d4"/><stop offset="1.0000" stop-color="#cecece"/></linearGradient>
<linearGradient id="b25" gradientUnits="userSpaceOnUse" x1="0" y1="0" x2="952" y2="0"><stop offset="0.0000" stop-color="#cbcbcb"/><stop offset="0.0357" stop-color="#d1d1d1"/><stop offset="0.0714" stop-color="#d7d7d7"/><stop offset="0.1071" stop-color="#dddddd"/><stop offset="0.1429" stop-color="#e1e1e1"/><stop offset="0.1786" stop-color="#e6e6e6"/><stop offset="0.2143" stop-color="#eaeaea"/><stop offset="0.2500" stop-color="#ededed"/><stop offset="0.2857" stop-color="#efefef"/><stop offset="0.3214" stop-color="#f0f0f0"/><stop offset="0.3571" stop-color="#f1f1f1"/><stop offset="0.3929" stop-color="#f0f0f0"/><stop offset="0.4286" stop-color="#f0f0f0"/><stop offset="0.4643" stop-color="#efefef"/><stop offset="0.5000" stop-color="#efefef"/><stop offset="0.5357" stop-color="#efefef"/><stop offset="0.5714" stop-color="#efefef"/><stop offset="0.6071" stop-color="#efefef"/><stop offset="0.6429" stop-color="#eeeeee"/><stop offset="0.6786" stop-color="#ededed"/><stop offset="0.7143" stop-color="#ebebeb"/><stop offset="0.7500" stop-color="#e8e8e8"/><stop offset="0.7857" stop-color="#e5e5e5"/><stop offset="0.8214" stop-color="#e3e3e3"/><stop offset="0.8571" stop-color="#e0e0e0"/><stop offset="0.8929" stop-color="#dddddd"/><stop offset="0.9286" stop-color="#d8d8d8"/><stop offset="0.9643" stop-color="#d3d3d3"/><stop offset="1.0000" stop-color="#cecece"/></linearGradient>
<linearGradient id="b26" gradientUnits="userSpaceOnUse" x1="0" y1="0" x2="952" y2="0"><stop offset="0.0000" stop-color="#cbcbcb"/><stop offset="0.0357" stop-color="#d1d1d1"/><stop offset="0.0714" stop-color="#d7d7d7"/><stop offset="0.1071" stop-color="#dddddd"/><stop offset="0.1429" stop-color="#e1e1e1"/><stop offset="0.1786" stop-color="#e6e6e6"/><stop offset="0.2143" stop-color="#eaeaea"/><stop offset="0.2500" stop-color="#ececec"/><stop offset="0.2857" stop-color="#eeeeee"/><stop offset="0.3214" stop-color="#f0f0f0"/><stop offset="0.3571" stop-color="#f0f0f0"/><stop offset="0.3929" stop-color="#f0f0f0"/><stop offset="0.4286" stop-color="#efefef"/><stop offset="0.4643" stop-color="#efefef"/><stop offset="0.5000" stop-color="#eeeeee"/><stop offset="0.5357" stop-color="#efefef"/><stop offset="0.5714" stop-color="#efefef"/><stop offset="0.6071" stop-color="#eeeeee"/><stop offset="0.6429" stop-color="#ededed"/><stop offset="0.6786" stop-color="#ececec"/><stop offset="0.7143" stop-color="#eaeaea"/><stop offset="0.7500" stop-color="#e7e7e7"/><stop offset="0.7857" stop-color="#e5e5e5"/><stop offset="0.8214" stop-color="#e2e2e2"/><stop offset="0.8571" stop-color="#e0e0e0"/><stop offset="0.8929" stop-color="#dcdcdc"/><stop offset="0.9286" stop-color="#d8d8d8"/><stop offset="0.9643" stop-color="#d3d3d3"/><stop offset="1.0000" stop-color="#cecece"/></linearGradient>
<linearGradient id="b27" gradientUnits="userSpaceOnUse" x1="0" y1="0" x2="952" y2="0"><stop offset="0.0000" stop-color="#cbcbcb"/><stop offset="0.0357" stop-color="#d1d1d1"/><stop offset="0.0714" stop-color="#d7d7d7"/><stop offset="0.1071" stop-color="#dddddd"/><stop offset="0.1429" stop-color="#e2e2e2"/><stop offset="0.1786" stop-color="#e6e6e6"/><stop offset="0.2143" stop-color="#e9e9e9"/><stop offset="0.2500" stop-color="#ececec"/><stop offset="0.2857" stop-color="#eeeeee"/><stop offset="0.3214" stop-color="#efefef"/><stop offset="0.3571" stop-color="#efefef"/><stop offset="0.3929" stop-color="#efefef"/><stop offset="0.4286" stop-color="#eeeeee"/><stop offset="0.4643" stop-color="#eeeeee"/><stop offset="0.5000" stop-color="#eeeeee"/><stop offset="0.5357" stop-color="#eeeeee"/><stop offset="0.5714" stop-color="#eeeeee"/><stop offset="0.6071" stop-color="#eeeeee"/><stop offset="0.6429" stop-color="#ededed"/><stop offset="0.6786" stop-color="#ebebeb"/><stop offset="0.7143" stop-color="#e9e9e9"/><stop offset="0.7500" stop-color="#e7e7e7"/><stop offset="0.7857" stop-color="#e4e4e4"/><stop offset="0.8214" stop-color="#e2e2e2"/><stop offset="0.8571" stop-color="#dfdfdf"/><stop offset="0.8929" stop-color="#dcdcdc"/><stop offset="0.9286" stop-color="#d8d8d8"/><stop offset="0.9643" stop-color="#d3d3d3"/><stop offset="1.0000" stop-color="#cdcdcd"/></linearGradient>
<linearGradient id="b28" gradientUnits="userSpaceOnUse" x1="0" y1="0" x2="952" y2="0"><stop offset="0.0000" stop-color="#cbcbcb"/><stop offset="0.0357" stop-color="#d1d1d1"/><stop offset="0.0714" stop-color="#d7d7d7"/><stop offset="0.1071" stop-color="#dcdcdc"/><stop offset="0.1429" stop-color="#e2e2e2"/><stop offset="0.1786" stop-color="#e6e6e6"/><stop offset="0.2143" stop-color="#e9e9e9"/><stop offset="0.2500" stop-color="#ebebeb"/><stop offset="0.2857" stop-color="#ededed"/><stop offset="0.3214" stop-color="#eeeeee"/><stop offset="0.3571" stop-color="#efefef"/><stop offset="0.3929" stop-color="#eeeeee"/><stop offset="0.4286" stop-color="#eeeeee"/><stop offset="0.4643" stop-color="#ededed"/><stop offset="0.5000" stop-color="#ededed"/><stop offset="0.5357" stop-color="#ededed"/><stop offset="0.5714" stop-color="#ededed"/><stop offset="0.6071" stop-color="#ededed"/><stop offset="0.6429" stop-color="#ececec"/><stop offset="0.6786" stop-color="#ebebeb"/><stop offset="0.7143" stop-color="#e8e8e8"/><stop offset="0.7500" stop-color="#e6e6e6"/><stop offset="0.7857" stop-color="#e4e4e4"/><stop offset="0.8214" stop-color="#e1e1e1"/><stop offset="0.8571" stop-color="#dfdfdf"/><stop offset="0.8929" stop-color="#dcdcdc"/><stop offset="0.9286" stop-color="#d8d8d8"/><stop offset="0.9643" stop-color="#d3d3d3"/><stop offset="1.0000" stop-color="#cdcdcd"/></linearGradient>
<linearGradient id="b29" gradientUnits="userSpaceOnUse" x1="0" y1="0" x2="952" y2="0"><stop offset="0.0000" stop-color="#cbcbcb"/><stop offset="0.0357" stop-color="#d1d1d1"/><stop offset="0.0714" stop-color="#d7d7d7"/><stop offset="0.1071" stop-color="#dcdcdc"/><stop offset="0.1429" stop-color="#e2e2e2"/><stop offset="0.1786" stop-color="#e5e5e5"/><stop offset="0.2143" stop-color="#e8e8e8"/><stop offset="0.2500" stop-color="#ebebeb"/><stop offset="0.2857" stop-color="#ededed"/><stop offset="0.3214" stop-color="#eeeeee"/><stop offset="0.3571" stop-color="#eeeeee"/><stop offset="0.3929" stop-color="#eeeeee"/><stop offset="0.4286" stop-color="#ededed"/><stop offset="0.4643" stop-color="#ededed"/><stop offset="0.5000" stop-color="#ededed"/><stop offset="0.5357" stop-color="#ededed"/><stop offset="0.5714" stop-color="#ededed"/><stop offset="0.6071" stop-color="#ececec"/><stop offset="0.6429" stop-color="#ececec"/><stop offset="0.6786" stop-color="#eaeaea"/><stop offset="0.7143" stop-color="#e8e8e8"/><stop offset="0.7500" stop-color="#e5e5e5"/><stop offset="0.7857" stop-color="#e3e3e3"/><stop offset="0.8214" stop-color="#e1e1e1"/><stop offset="0.8571" stop-color="#dfdfdf"/><stop offset="0.8929" stop-color="#dcdcdc"/><stop offset="0.9286" stop-color="#d8d8d8"/><stop offset="0.9643" stop-color="#d2d2d2"/><stop offset="1.0000" stop-color="#cdcdcd"/></linearGradient>
<linearGradient id="b30" gradientUnits="userSpaceOnUse" x1="0" y1="0" x2="952" y2="0"><stop offset="0.0000" stop-color="#cccccc"/><stop offset="0.0357" stop-color="#d1d1d1"/><stop offset="0.0714" stop-color="#d6d6d6"/><stop offset="0.1071" stop-color="#dcdcdc"/><stop offset="0.1429" stop-color="#e1e1e1"/><stop offset="0.1786" stop-color="#e5e5e5"/><stop offset="0.2143" stop-color="#e8e8e8"/><stop offset="0.2500" stop-color="#eaeaea"/><stop offset="0.2857" stop-color="#ececec"/><stop offset="0.3214" stop-color="#ededed"/><stop offset="0.3571" stop-color="#ededed"/><stop offset="0.3929" stop-color="#ededed"/><stop offset="0.4286" stop-color="#ededed"/><stop offset="0.4643" stop-color="#ececec"/><stop offset="0.5000" stop-color="#ececec"/><stop offset="0.5357" stop-color="#ececec"/><stop offset="0.5714" stop-color="#ececec"/><stop offset="0.6071" stop-color="#ececec"/><stop offset="0.6429" stop-color="#ebebeb"/><stop offset="0.6786" stop-color="#e9e9e9"/><stop offset="0.7143" stop-color="#e7e7e7"/><stop offset="0.7500" stop-color="#e4e4e4"/><stop offset="0.7857" stop-color="#e2e2e2"/><stop offset="0.8214" stop-color="#e0e0e0"/><stop offset="0.8571" stop-color="#dedede"/><stop offset="0.8929" stop-color="#dbdbdb"/><stop offset="0.9286" stop-color="#d7d7d7"/><stop offset="0.9643" stop-color="#d2d2d2"/><stop offset="1.0000" stop-color="#cdcdcd"/></linearGradient>
<linearGradient id="b31" gradientUnits="userSpaceOnUse" x1="0" y1="0" x2="952" y2="0"><stop offset="0.0000" stop-color="#cccccc"/><stop offset="0.0357" stop-color="#d1d1d1"/><stop offset="0.0714" stop-color="#d6d6d6"/><stop offset="0.1071" stop-color="#dcdcdc"/><stop offset="0.1429" stop-color="#e1e1e1"/><stop offset="0.1786" stop-color="#e5e5e5"/><stop offset="0.2143" stop-color="#e8e8e8"/><stop offset="0.2500" stop-color="#eaeaea"/><stop offset="0.2857" stop-color="#ececec"/><stop offset="0.3214" stop-color="#ececec"/><stop offset="0.3571" stop-color="#ededed"/><stop offset="0.3929" stop-color="#ededed"/><stop offset="0.4286" stop-color="#ececec"/><stop offset="0.4643" stop-color="#ececec"/><stop offset="0.5000" stop-color="#ececec"/><stop offset="0.5357" stop-color="#ececec"/><stop offset="0.5714" stop-color="#ececec"/><stop offset="0.6071" stop-color="#ebebeb"/><stop offset="0.6429" stop-color="#eaeaea"/><stop offset="0.6786" stop-color="#e8e8e8"/><stop offset="0.7143" stop-color="#e6e6e6"/><stop offset="0.7500" stop-color="#e4e4e4"/><stop offset="0.7857" stop-color="#e2e2e2"/><stop offset="0.8214" stop-color="#e0e0e0"/><stop offset="0.8571" stop-color="#dedede"/><stop offset="0.8929" stop-color="#dbdbdb"/><stop offset="0.9286" stop-color="#d7d7d7"/><stop offset="0.9643" stop-color="#d2d2d2"/><stop offset="1.0000" stop-color="#cccccc"/></linearGradient>
<linearGradient id="b32" gradientUnits="userSpaceOnUse" x1="0" y1="0" x2="952" y2="0"><stop offset="0.0000" stop-color="#cccccc"/><stop offset="0.0357" stop-color="#d1d1d1"/><stop offset="0.0714" stop-color="#d6d6d6"/><stop offset="0.1071" stop-color="#dcdcdc"/><stop offset="0.1429" stop-color="#e1e1e1"/><stop offset="0.1786" stop-color="#e4e4e4"/><stop offset="0.2143" stop-color="#e7e7e7"/><stop offset="0.2500" stop-color="#e9e9e9"/><stop offset="0.2857" stop-color="#ebebeb"/><stop offset="0.3214" stop-color="#ececec"/><stop offset="0.3571" stop-color="#ececec"/><stop offset="0.3929" stop-color="#ececec"/><stop offset="0.4286" stop-color="#ececec"/><stop offset="0.4643" stop-color="#ececec"/><stop offset="0.5000" stop-color="#ebebeb"/><stop offset="0.5357" stop-color="#ebebeb"/><stop offset="0.5714" stop-color="#ebebeb"/><stop offset="0.6071" stop-color="#ebebeb"/><stop offset="0.6429" stop-color="#eaeaea"/><stop offset="0.6786" stop-color="#e8e8e8"/><stop offset="0.7143" stop-color="#e5e5e5"/><stop offset="0.7500" stop-color="#e3e3e3"/><stop offset="0.7857" stop-color="#e1e1e1"/><stop offset="0.8214" stop-color="#dfdfdf"/><stop offset="0.8571" stop-color="#dddddd"/><stop offset="0.8929" stop-color="#dadada"/><stop offset="0.9286" stop-color="#d6d6d6"/><stop offset="0.9643" stop-color="#d1d1d1"/><stop offset="1.0000" stop-color="#cccccc"/></linearGradient>
<linearGradient id="b33" gradientUnits="userSpaceOnUse" x1="0" y1="0" x2="952" y2="0"><stop offset="0.0000" stop-color="#cccccc"/><stop offset="0.0357" stop-color="#d1d1d1"/><stop offset="0.0714" stop-color="#d6d6d6"/><stop offset="0.1071" stop-color="#dbdbdb"/><stop offset="0.1429" stop-color="#e0e0e0"/><stop offset="0.1786" stop-color="#e4e4e4"/><stop offset="0.2143" stop-color="#e7e7e7"/><stop offset="0.2500" stop-color="#e9e9e9"/><stop offset="0.2857" stop-color="#eaeaea"/><stop offset="0.3214" stop-color="#ebebeb"/><stop offset="0.3571" stop-color="#ececec"/><stop offset="0.3929" stop-color="#ececec"/><stop offset="0.4286" stop-color="#ececec"/><stop offset="0.4643" stop-color="#ebebeb"/><stop offset="0.5000" stop-color="#ebebeb"/><stop offset="0.5357" stop-color="#ebebeb"/><stop offset="0.5714" stop-color="#ebebeb"/><stop offset="0.6071" stop-color="#eaeaea"/><stop offset="0.6429" stop-color="#e9e9e9"/><stop offset="0.6786" stop-color="#e7e7e7"/><stop offset="0.7143" stop-color="#e4e4e4"/><stop offset="0.7500" stop-color="#e2e2e2"/><stop offset="0.7857" stop-color="#e0e0e0"/><stop offset="0.8214" stop-color="#dedede"/><stop offset="0.8571" stop-color="#dcdcdc"/><stop offset="0.8929" stop-color="#dadada"/><stop offset="0.9286" stop-color="#d6d6d6"/><stop offset="0.9643" stop-color="#d0d0d0"/><stop offset="1.0000" stop-color="#cccccc"/></linearGradient>
<linearGradient id="b34" gradientUnits="userSpaceOnUse" x1="0" y1="0" x2="952" y2="0"><stop offset="0.0000" stop-color="#cccccc"/><stop offset="0.0357" stop-color="#d0d0d0"/><stop offset="0.0714" stop-color="#d5d5d5"/><stop offset="0.1071" stop-color="#dbdbdb"/><stop offset="0.1429" stop-color="#e0e0e0"/><stop offset="0.1786" stop-color="#e4e4e4"/><stop offset="0.2143" stop-color="#e6e6e6"/><stop offset="0.2500" stop-color="#e8e8e8"/><stop offset="0.2857" stop-color="#eaeaea"/><stop offset="0.3214" stop-color="#ebebeb"/><stop offset="0.3571" stop-color="#ebebeb"/><stop offset="0.3929" stop-color="#ebebeb"/><stop offset="0.4286" stop-color="#ebebeb"/><stop offset="0.4643" stop-color="#ebebeb"/><stop offset="0.5000" stop-color="#eaeaea"/><stop offset="0.5357" stop-color="#eaeaea"/><stop offset="0.5714" stop-color="#eaeaea"/><stop offset="0.6071" stop-color="#eaeaea"/><stop offset="0.6429" stop-color="#e8e8e8"/><stop offset="0.6786" stop-color="#e6e6e6"/><stop offset="0.7143" stop-color="#e4e4e4"/><stop offset="0.7500" stop-color="#e1e1e1"/><stop offset="0.7857" stop-color="#dfdfdf"/><stop offset="0.8214" stop-color="#dedede"/><stop offset="0.8571" stop-color="#dcdcdc"/><stop offset="0.8929" stop-color="#d9d9d9"/><stop offset="0.9286" stop-color="#d5d5d5"/><stop offset="0.9643" stop-color="#d0d0d0"/><stop offset="1.0000" stop-color="#cbcbcb"/></linearGradient>
<linearGradient id="b35" gradientUnits="userSpaceOnUse" x1="0" y1="0" x2="952" y2="0"><stop offset="0.0000" stop-color="#cccccc"/><stop offset="0.0357" stop-color="#d0d0d0"/><stop offset="0.0714" stop-color="#d5d5d5"/><stop offset="0.1071" stop-color="#dbdbdb"/><stop offset="0.1429" stop-color="#dfdfdf"/><stop offset="0.1786" stop-color="#e3e3e3"/><stop offset="0.2143" stop-color="#e6e6e6"/><stop offset="0.2500" stop-color="#e8e8e8"/><stop offset="0.2857" stop-color="#e9e9e9"/><stop offset="0.3214" stop-color="#eaeaea"/><stop offset="0.3571" stop-color="#eaeaea"/><stop offset="0.3929" stop-color="#ebebeb"/><stop offset="0.4286" stop-color="#ebebeb"/><stop offset="0.4643" stop-color="#eaeaea"/><stop offset="0.5000" stop-color="#eaeaea"/><stop offset="0.5357" stop-color="#eaeaea"/><stop offset="0.5714" stop-color="#eaeaea"/><stop offset="0.6071" stop-color="#e9e9e9"/><stop offset="0.6429" stop-color="#e8e8e8"/><stop offset="0.6786" stop-color="#e5e5e5"/><stop offset="0.7143" stop-color="#e3e3e3"/><stop offset="0.7500" stop-color="#e1e1e1"/><stop offset="0.7857" stop-color="#dfdfdf"/><stop offset="0.8214" stop-color="#dddddd"/><stop offset="0.8571" stop-color="#dbdbdb"/><stop offset="0.8929" stop-color="#d8d8d8"/><stop offset="0.9286" stop-color="#d4d4d4"/><stop offset="0.9643" stop-color="#cfcfcf"/><stop offset="1.0000" stop-color="#cbcbcb"/></linearGradient>
<linearGradient id="b36" gradientUnits="userSpaceOnUse" x1="0" y1="0" x2="952" y2="0"><stop offset="0.0000" stop-color="#cccccc"/><stop offset="0.0357" stop-color="#d0d0d0"/><stop offset="0.0714" stop-color="#d5d5d5"/><stop offset="0.1071" stop-color="#dadada"/><stop offset="0.1429" stop-color="#dfdfdf"/><stop offset="0.1786" stop-color="#e3e3e3"/><stop offset="0.2143" stop-color="#e5e5e5"/><stop offset="0.2500" stop-color="#e7e7e7"/><stop offset="0.2857" stop-color="#e9e9e9"/><stop offset="0.3214" stop-color="#e9e9e9"/><stop offset="0.3571" stop-color="#eaeaea"/><stop offset="0.3929" stop-color="#eaeaea"/><stop offset="0.4286" stop-color="#eaeaea"/><stop offset="0.4643" stop-color="#eaeaea"/><stop offset="0.5000" stop-color="#e9e9e9"/><stop offset="0.5357" stop-color="#e9e9e9"/><stop offset="0.5714" stop-color="#e9e9e9"/><stop offset="0.6071" stop-color="#e8e8e8"/><stop offset="0.6429" stop-color="#e7e7e7"/><stop offset="0.6786" stop-color="#e5e5e5"/><stop offset="0.7143" stop-color="#e2e2e2"/><stop offset="0.7500" stop-color="#e0e0e0"/><stop offset="0.7857" stop-color="#dedede"/><stop offset="0.8214" stop-color="#dcdcdc"/><stop offset="0.8571" stop-color="#dadada"/><stop offset="0.8929" stop-color="#d7d7d7"/><stop offset="0.9286" stop-color="#d3d3d3"/><stop offset="0.9643" stop-color="#cfcfcf"/><stop offset="1.0000" stop-color="#cacaca"/></linearGradient>
<linearGradient id="b37" gradientUnits="userSpaceOnUse" x1="0" y1="0" x2="952" y2="0"><stop offset="0.0000" stop-color="#cccccc"/><stop offset="0.0357" stop-color="#d0d0d0"/><stop offset="0.0714" stop-color="#d5d5d5"/><stop offset="0.1071" stop-color="#dadada"/><stop offset="0.1429" stop-color="#dfdfdf"/><stop offset="0.1786" stop-color="#e2e2e2"/><stop offset="0.2143" stop-color="#e5e5e5"/><stop offset="0.2500" stop-color="#e7e7e7"/><stop offset="0.2857" stop-color="#e8e8e8"/><stop offset="0.3214" stop-color="#e9e9e9"/><stop offset="0.3571" stop-color="#e9e9e9"/><stop offset="0.3929" stop-color="#e9e9e9"/><stop offset="0.4286" stop-color="#e9e9e9"/><stop offset="0.4643" stop-color="#e9e9e9"/><stop offset="0.5000" stop-color="#e9e9e9"/><stop offset="0.5357" stop-color="#e9e9e9"/><stop offset="0.5714" stop-color="#e9e9e9"/><stop offset="0.6071" stop-color="#e8e8e8"/><stop offset="0.6429" stop-color="#e6e6e6"/><stop offset="0.6786" stop-color="#e4e4e4"/><stop offset="0.7143" stop-color="#e1e1e1"/><stop offset="0.7500" stop-color="#dfdfdf"/><stop offset="0.7857" stop-color="#dddddd"/><stop offset="0.8214" stop-color="#dcdcdc"/><stop offset="0.8571" stop-color="#d9d9d9"/><stop offset="0.8929" stop-color="#d6d6d6"/><stop offset="0.9286" stop-color="#d2d2d2"/><stop offset="0.9643" stop-color="#cecece"/><stop offset="1.0000" stop-color="#cacaca"/></linearGradient>
<linearGradient id="b38" gradientUnits="userSpaceOnUse" x1="0" y1="0" x2="952" y2="0"><stop offset="0.0000" stop-color="#cccccc"/><stop offset="0.0357" stop-color="#d0d0d0"/><stop offset="0.0714" stop-color="#d5d5d5"/><stop offset="0.1071" stop-color="#dadada"/><stop offset="0.1429" stop-color="#dedede"/><stop offset="0.1786" stop-color="#e2e2e2"/><stop offset="0.2143" stop-color="#e4e4e4"/><stop offset="0.2500" stop-color="#e6e6e6"/><stop offset="0.2857" stop-color="#e7e7e7"/><stop offset="0.3214" stop-color="#e8e8e8"/><stop offset="0.3571" stop-color="#e8e8e8"/><stop offset="0.3929" stop-color="#e9e9e9"/><stop offset="0.4286" stop-color="#e9e9e9"/><stop offset="0.4643" stop-color="#e8e8e8"/><stop offset="0.5000" stop-color="#e8e8e8"/><stop offset="0.5357" stop-color="#e8e8e8"/><stop offset="0.5714" stop-color="#e8e8e8"/><stop offset="0.6071" stop-color="#e7e7e7"/><stop offset="0.6429" stop-color="#e6e6e6"/><stop offset="0.6786" stop-color="#e3e3e3"/><stop offset="0.7143" stop-color="#e1e1e1"/><stop offset="0.7500" stop-color="#dedede"/><stop offset="0.7857" stop-color="#dddddd"/><stop offset="0.8214" stop-color="#dbdbdb"/><stop offset="0.8571" stop-color="#d9d9d9"/><stop offset="0.8929" stop-color="#d5d5d5"/><stop offset="0.9286" stop-color="#d1d1d1"/><stop offset="0.9643" stop-color="#cdcdcd"/><stop offset="1.0000" stop-color="#c9c9c9"/></linearGradient>
<linearGradient id="b39" gradientUnits="userSpaceOnUse" x1="0" y1="0" x2="952" y2="0"><stop offset="0.0000" stop-color="#cccccc"/><stop offset="0.0357" stop-color="#d0d0d0"/><stop offset="0.0714" stop-color="#d4d4d4"/><stop offset="0.1071" stop-color="#d9d9d9"/><stop offset="0.1429" stop-color="#dedede"/><stop offset="0.1786" stop-color="#e1e1e1"/><stop offset="0.2143" stop-color="#e4e4e4"/><stop offset="0.2500" stop-color="#e6e6e6"/><stop offset="0.2857" stop-color="#e7e7e7"/><stop offset="0.3214" stop-color="#e8e8e8"/><stop offset="0.3571" stop-color="#e8e8e8"/><stop offset="0.3929" stop-color="#e8e8e8"/><stop offset="0.4286" stop-color="#e8e8e8"/><stop offset="0.4643" stop-color="#e8e8e8"/><stop offset="0.5000" stop-color="#e8e8e8"/><stop offset="0.5357" stop-color="#e8e8e8"/><stop offset="0.5714" stop-color="#e7e7e7"/><stop offset="0.6071" stop-color="#e7e7e7"/><stop offset="0.6429" stop-color="#e5e5e5"/><stop offset="0.6786" stop-color="#e3e3e3"/><stop offset="0.7143" stop-color="#e0e0e0"/><stop offset="0.7500" stop-color="#dedede"/><stop offset="0.7857" stop-color="#dcdcdc"/><stop offset="0.8214" stop-color="#dadada"/><stop offset="0.8571" stop-color="#d8d8d8"/><stop offset="0.8929" stop-color="#d5d5d5"/><stop offset="0.9286" stop-color="#d0d0d0"/><stop offset="0.9643" stop-color="#cdcdcd"/><stop offset="1.0000" stop-color="#c9c9c9"/></linearGradient>
<linearGradient id="b40" gradientUnits="userSpaceOnUse" x1="0" y1="0" x2="952" y2="0"><stop offset="0.0000" stop-color="#cbcbcb"/><stop offset="0.0357" stop-color="#d0d0d0"/><stop offset="0.0714" stop-color="#d4d4d4"/><stop offset="0.1071" stop-color="#d9d9d9"/><stop offset="0.1429" stop-color="#dddddd"/><stop offset="0.1786" stop-color="#e1e1e1"/><stop offset="0.2143" stop-color="#e3e3e3"/><stop offset="0.2500" stop-color="#e5e5e5"/><stop offset="0.2857" stop-color="#e6e6e6"/><stop offset="0.3214" stop-color="#e7e7e7"/><stop offset="0.3571" stop-color="#e7e7e7"/><stop offset="0.3929" stop-color="#e7e7e7"/><stop offset="0.4286" stop-color="#e7e7e7"/><stop offset="0.4643" stop-color="#e7e7e7"/><stop offset="0.5000" stop-color="#e7e7e7"/><stop offset="0.5357" stop-color="#e7e7e7"/><stop offset="0.5714" stop-color="#e7e7e7"/><stop offset="0.6071" stop-color="#e6e6e6"/><stop offset="0.6429" stop-color="#e4e4e4"/><stop offset="0.6786" stop-color="#e2e2e2"/><stop offset="0.7143" stop-color="#dfdfdf"/><stop offset="0.7500" stop-color="#dddddd"/><stop offset="0.7857" stop-color="#dbdbdb"/><stop offset="0.8214" stop-color="#d9d9d9"/><stop offset="0.8571" stop-color="#d7d7d7"/><stop offset="0.8929" stop-color="#d4d4d4"/><stop offset="0.9286" stop-color="#d0d0d0"/><stop offset="0.9643" stop-color="#cccccc"/><stop offset="1.0000" stop-color="#c9c9c9"/></linearGradient>
<linearGradient id="b41" gradientUnits="userSpaceOnUse" x1="0" y1="0" x2="952" y2="0"><stop offset="0.0000" stop-color="#cbcbcb"/><stop offset="0.0357" stop-color="#d0d0d0"/><stop offset="0.0714" stop-color="#d4d4d4"/><stop offset="0.1071" stop-color="#d9d9d9"/><stop offset="0.1429" stop-color="#dddddd"/><stop offset="0.1786" stop-color="#e0e0e0"/><stop offset="0.2143" stop-color="#e3e3e3"/><stop offset="0.2500" stop-color="#e5e5e5"/><stop offset="0.2857" stop-color="#e6e6e6"/><stop offset="0.3214" stop-color="#e6e6e6"/><stop offset="0.3571" stop-color="#e6e6e6"/><stop offset="0.3929" stop-color="#e6e6e6"/><stop offset="0.4286" stop-color="#e6e6e6"/><stop offset="0.4643" stop-color="#e7e7e7"/><stop offset="0.5000" stop-color="#e7e7e7"/><stop offset="0.5357" stop-color="#e7e7e7"/><stop offset="0.5714" stop-color="#e6e6e6"/><stop offset="0.6071" stop-color="#e5e5e5"/><stop offset="0.6429" stop-color="#e4e4e4"/><stop offset="0.6786" stop-color="#e1e1e1"/><stop offset="0.7143" stop-color="#dfdfdf"/><stop offset="0.7500" stop-color="#dddddd"/><stop offset="0.7857" stop-color="#dbdbdb"/><stop offset="0.8214" stop-color="#d9d9d9"/><stop offset="0.8571" stop-color="#d6d6d6"/><stop offset="0.8929" stop-color="#d3d3d3"/><stop offset="0.9286" stop-color="#d0d0d0"/><stop offset="0.9643" stop-color="#cccccc"/><stop offset="1.0000" stop-color="#c8c8c8"/></linearGradient>
<linearGradient id="b42" gradientUnits="userSpaceOnUse" x1="0" y1="0" x2="952" y2="0"><stop offset="0.0000" stop-color="#cbcbcb"/><stop offset="0.0357" stop-color="#d0d0d0"/><stop offset="0.0714" stop-color="#d4d4d4"/><stop offset="0.1071" stop-color="#d8d8d8"/><stop offset="0.1429" stop-color="#dcdcdc"/><stop offset="0.1786" stop-color="#e0e0e0"/><stop offset="0.2143" stop-color="#e2e2e2"/><stop offset="0.2500" stop-color="#e4e4e4"/><stop offset="0.2857" stop-color="#e5e5e5"/><stop offset="0.3214" stop-color="#e6e6e6"/><stop offset="0.3571" stop-color="#e6e6e6"/><stop offset="0.3929" stop-color="#e6e6e6"/><stop offset="0.4286" stop-color="#e6e6e6"/><stop offset="0.4643" stop-color="#e6e6e6"/><stop offset="0.5000" stop-color="#e6e6e6"/><stop offset="0.5357" stop-color="#e6e6e6"/><stop offset="0.5714" stop-color="#e6e6e6"/><stop offset="0.6071" stop-color="#e5e5e5"/><stop offset="0.6429" stop-color="#e3e3e3"/><stop offset="0.6786" stop-color="#e1e1e1"/><stop offset="0.7143" stop-color="#dedede"/><stop offset="0.7500" stop-color="#dcdcdc"/><stop offset="0.7857" stop-color="#dadada"/><stop offset="0.8214" stop-color="#d8d8d8"/><stop offset="0.8571" stop-color="#d6d6d6"/><stop offset="0.8929" stop-color="#d3d3d3"/><stop offset="0.9286" stop-color="#cfcfcf"/><stop offset="0.9643" stop-color="#cccccc"/><stop offset="1.0000" stop-color="#c8c8c8"/></linearGradient>
<linearGradient id="b43" gradientUnits="userSpaceOnUse" x1="0" y1="0" x2="952" y2="0"><stop offset="0.0000" stop-color="#cbcbcb"/><stop offset="0.0357" stop-color="#cfcfcf"/><stop offset="0.0714" stop-color="#d4d4d4"/><stop offset="0.1071" stop-color="#d8d8d8"/><stop offset="0.1429" stop-color="#dcdcdc"/><stop offset="0.1786" stop-color="#dfdfdf"/><stop offset="0.2143" stop-color="#e1e1e1"/><stop offset="0.2500" stop-color="#e3e3e3"/><stop offset="0.2857" stop-color="#e5e5e5"/><stop offset="0.3214" stop-color="#e5e5e5"/><stop offset="0.3571" stop-color="#e5e5e5"/><stop offset="0.3929" stop-color="#e5e5e5"/><stop offset="0.4286" stop-color="#e5e5e5"/><stop offset="0.4643" stop-color="#e6e6e6"/><stop offset="0.5000" stop-color="#e6e6e6"/><stop offset="0.5357" stop-color="#e5e5e5"/><stop offset="0.5714" stop-color="#e5e5e5"/><stop offset="0.6071" stop-color="#e4e4e4"/><stop offset="0.6429" stop-color="#e2e2e2"/><stop offset="0.6786" stop-color="#e0e0e0"/><stop offset="0.7143" stop-color="#dedede"/><stop offset="0.7500" stop-color="#dbdbdb"/><stop offset="0.7857" stop-color="#d9d9d9"/><stop offset="0.8214" stop-color="#d7d7d7"/><stop offset="0.8571" stop-color="#d5d5d5"/><stop offset="0.8929" stop-color="#d2d2d2"/><stop offset="0.9286" stop-color="#cfcfcf"/><stop offset="0.9643" stop-color="#cbcbcb"/><stop offset="1.0000" stop-color="#c8c8c8"/></linearGradient>
<linearGradient id="b44" gradientUnits="userSpaceOnUse" x1="0" y1="0" x2="952" y2="0"><stop offset="0.0000" stop-color="#cbcbcb"/><stop offset="0.0357" stop-color="#cfcfcf"/><stop offset="0.0714" stop-color="#d3d3d3"/><stop offset="0.1071" stop-color="#d7d7d7"/><stop offset="0.1429" stop-color="#dbdbdb"/><stop offset="0.1786" stop-color="#dedede"/><stop offset="0.2143" stop-color="#e1e1e1"/><stop offset="0.2500" stop-color="#e3e3e3"/><stop offset="0.2857" stop-color="#e4e4e4"/><stop offset="0.3214" stop-color="#e5e5e5"/><stop offset="0.3571" stop-color="#e5e5e5"/><stop offset="0.3929" stop-color="#e5e5e5"/><stop offset="0.4286" stop-color="#e5e5e5"/><stop offset="0.4643" stop-color="#e5e5e5"/><stop offset="0.5000" stop-color="#e5e5e5"/><stop offset="0.5357" stop-color="#e5e5e5"/><stop offset="0.5714" stop-color="#e4e4e4"/><stop offset="0.6071" stop-color="#e3e3e3"/><stop offset="0.6429" stop-color="#e2e2e2"/><stop offset="0.6786" stop-color="#dfdfdf"/><stop offset="0.7143" stop-color="#dddddd"/><stop offset="0.7500" stop-color="#dbdbdb"/><stop offset="0.7857" stop-color="#d9d9d9"/><stop offset="0.8214" stop-color="#d7d7d7"/><stop offset="0.8571" stop-color="#d4d4d4"/><stop offset="0.8929" stop-color="#d2d2d2"/><stop offset="0.9286" stop-color="#cfcfcf"/><stop offset="0.9643" stop-color="#cbcbcb"/><stop offset="1.0000" stop-color="#c7c7c7"/></linearGradient>
<linearGradient id="b45" gradientUnits="userSpaceOnUse" x1="0" y1="0" x2="952" y2="0"><stop offset="0.0000" stop-color="#cbcbcb"/><stop offset="0.0357" stop-color="#cfcfcf"/><stop offset="0.0714" stop-color="#d3d3d3"/><stop offset="0.1071" stop-color="#d7d7d7"/><stop offset="0.1429" stop-color="#dbdbdb"/><stop offset="0.1786" stop-color="#dedede"/><stop offset="0.2143" stop-color="#e0e0e0"/><stop offset="0.2500" stop-color="#e2e2e2"/><stop offset="0.2857" stop-color="#e3e3e3"/><stop offset="0.3214" stop-color="#e4e4e4"/><stop offset="0.3571" stop-color="#e4e4e4"/><stop offset="0.3929" stop-color="#e4e4e4"/><stop offset="0.4286" stop-color="#e4e4e4"/><stop offset="0.4643" stop-color="#e5e5e5"/><stop offset="0.5000" stop-color="#e5e5e5"/><stop offset="0.5357" stop-color="#e4e4e4"/><stop offset="0.5714" stop-color="#e4e4e4"/><stop offset="0.6071" stop-color="#e3e3e3"/><stop offset="0.6429" stop-color="#e1e1e1"/><stop offset="0.6786" stop-color="#dfdfdf"/><stop offset="0.7143" stop-color="#dcdcdc"/><stop offset="0.7500" stop-color="#dadada"/><stop offset="0.7857" stop-color="#d8d8d8"/><stop offset="0.8214" stop-color="#d6d6d6"/><stop offset="0.8571" stop-color="#d4d4d4"/><stop offset="0.8929" stop-color="#d1d1d1"/><stop offset="0.9286" stop-color="#cecece"/><stop offset="0.9643" stop-color="#cbcbcb"/><stop offset="1.0000" stop-color="#c7c7c7"/></linearGradient>
<linearGradient id="b46" gradientUnits="userSpaceOnUse" x1="0" y1="0" x2="952" y2="0"><stop offset="0.0000" stop-color="#cacaca"/><stop offset="0.0357" stop-color="#cfcfcf"/><stop offset="0.0714" stop-color="#d3d3d3"/><stop offset="0.1071" stop-color="#d7d7d7"/><stop offset="0.1429" stop-color="#dadada"/><stop offset="0.1786" stop-color="#dddddd"/><stop offset="0.2143" stop-color="#e0e0e0"/><stop offset="0.2500" stop-color="#e1e1e1"/><stop offset="0.2857" stop-color="#e3e3e3"/><stop offset="0.3214" stop-color="#e3e3e3"/><stop offset="0.3571" stop-color="#e4e4e4"/><stop offset="0.3929" stop-color="#e4e4e4"/><stop offset="0.4286" stop-color="#e4e4e4"/><stop offset="0.4643" stop-color="#e4e4e4"/><stop offset="0.5000" stop-color="#e4e4e4"/><stop offset="0.5357" stop-color="#e4e4e4"/><stop offset="0.5714" stop-color="#e3e3e3"/><stop offset="0.6071" stop-color="#e2e2e2"/><stop offset="0.6429" stop-color="#e0e0e0"/><stop offset="0.6786" stop-color="#dedede"/><stop offset="0.7143" stop-color="#dcdcdc"/><stop offset="0.7500" stop-color="#dadada"/><stop offset="0.7857" stop-color="#d7d7d7"/><stop offset="0.8214" stop-color="#d5d5d5"/><stop offset="0.8571" stop-color="#d3d3d3"/><stop offset="0.8929" stop-color="#d1d1d1"/><stop offset="0.9286" stop-color="#cecece"/><stop offset="0.9643" stop-color="#cbcbcb"/><stop offset="1.0000" stop-color="#c7c7c7"/></linearGradient>
<linearGradient id="b47" gradientUnits="userSpaceOnUse" x1="0" y1="0" x2="952" y2="0"><stop offset="0.0000" stop-color="#cacaca"/><stop offset="0.0357" stop-color="#cecece"/><stop offset="0.0714" stop-color="#d2d2d2"/><stop offset="0.1071" stop-color="#d6d6d6"/><stop offset="0.1429" stop-color="#dadada"/><stop offset="0.1786" stop-color="#dddddd"/><stop offset="0.2143" stop-color="#dfdfdf"/><stop offset="0.2500" stop-color="#e1e1e1"/><stop offset="0.2857" stop-color="#e2e2e2"/><stop offset="0.3214" stop-color="#e3e3e3"/><stop offset="0.3571" stop-color="#e3e3e3"/><stop offset="0.3929" stop-color="#e3e3e3"/><stop offset="0.4286" stop-color="#e3e3e3"/><stop offset="0.4643" stop-color="#e4e4e4"/><stop offset="0.5000" stop-color="#e3e3e3"/><stop offset="0.5357" stop-color="#e3e3e3"/><stop offset="0.5714" stop-color="#e2e2e2"/><stop offset="0.6071" stop-color="#e1e1e1"/><stop offset="0.6429" stop-color="#e0e0e0"/><stop offset="0.6786" stop-color="#dddddd"/><stop offset="0.7143" stop-color="#dbdbdb"/><stop offset="0.7500" stop-color="#d9d9d9"/><stop offset="0.7857" stop-color="#d7d7d7"/><stop offset="0.8214" stop-color="#d5d5d5"/><stop offset="0.8571" stop-color="#d3d3d3"/><stop offset="0.8929" stop-color="#d0d0d0"/><stop offset="0.9286" stop-color="#cecece"/><stop offset="0.9643" stop-color="#cacaca"/><stop offset="1.0000" stop-color="#c6c6c6"/></linearGradient>
<linearGradient id="b48" gradientUnits="userSpaceOnUse" x1="0" y1="0" x2="952" y2="0"><stop offset="0.0000" stop-color="#cacaca"/><stop offset="0.0357" stop-color="#cecece"/><stop offset="0.0714" stop-color="#d2d2d2"/><stop offset="0.1071" stop-color="#d6d6d6"/><stop offset="0.1429" stop-color="#d9d9d9"/><stop offset="0.1786" stop-color="#dcdcdc"/><stop offset="0.2143" stop-color="#dedede"/><stop offset="0.2500" stop-color="#e0e0e0"/><stop offset="0.2857" stop-color="#e1e1e1"/><stop offset="0.3214" stop-color="#e2e2e2"/><stop offset="0.3571" stop-color="#e3e3e3"/><stop offset="0.3929" stop-color="#e3e3e3"/><stop offset="0.4286" stop-color="#e3e3e3"/><stop offset="0.4643" stop-color="#e3e3e3"/><stop offset="0.5000" stop-color="#e3e3e3"/><stop offset="0.5357" stop-color="#e2e2e2"/><stop offset="0.5714" stop-color="#e2e2e2"/><stop offset="0.6071" stop-color="#e0e0e0"/><stop offset="0.6429" stop-color="#dfdfdf"/><stop offset="0.6786" stop-color="#dddddd"/><stop offset="0.7143" stop-color="#dbdbdb"/><stop offset="0.7500" stop-color="#d8d8d8"/><stop offset="0.7857" stop-color="#d6d6d6"/><stop offset="0.8214" stop-color="#d4d4d4"/><stop offset="0.8571" stop-color="#d2d2d2"/><stop offset="0.8929" stop-color="#d0d0d0"/><stop offset="0.9286" stop-color="#cdcdcd"/><stop offset="0.9643" stop-color="#cacaca"/><stop offset="1.0000" stop-color="#c6c6c6"/></linearGradient>
<linearGradient id="b49" gradientUnits="userSpaceOnUse" x1="0" y1="0" x2="952" y2="0"><stop offset="0.0000" stop-color="#cacaca"/><stop offset="0.0357" stop-color="#cecece"/><stop offset="0.0714" stop-color="#d2d2d2"/><stop offset="0.1071" stop-color="#d5d5d5"/><stop offset="0.1429" stop-color="#d8d8d8"/><stop offset="0.1786" stop-color="#dbdbdb"/><stop offset="0.2143" stop-color="#dedede"/><stop offset="0.2500" stop-color="#e0e0e0"/><stop offset="0.2857" stop-color="#e1e1e1"/><stop offset="0.3214" stop-color="#e2e2e2"/><stop offset="0.3571" stop-color="#e2e2e2"/><stop offset="0.3929" stop-color="#e2e2e2"/><stop offset="0.4286" stop-color="#e3e3e3"/><stop offset="0.4643" stop-color="#e3e3e3"/><stop offset="0.5000" stop-color="#e2e2e2"/><stop offset="0.5357" stop-color="#e2e2e2"/><stop offset="0.5714" stop-color="#e1e1e1"/><stop offset="0.6071" stop-color="#e0e0e0"/><stop offset="0.6429" stop-color="#dedede"/><stop offset="0.6786" stop-color="#dcdcdc"/><stop offset="0.7143" stop-color="#dadada"/><stop offset="0.7500" stop-color="#d8d8d8"/><stop offset="0.7857" stop-color="#d5d5d5"/><stop offset="0.8214" stop-color="#d3d3d3"/><stop offset="0.8571" stop-color="#d1d1d1"/><stop offset="0.8929" stop-color="#cfcfcf"/><stop offset="0.9286" stop-color="#cdcdcd"/><stop offset="0.9643" stop-color="#c9c9c9"/><stop offset="1.0000" stop-color="#c5c5c5"/></linearGradient>
<linearGradient id="b50" gradientUnits="userSpaceOnUse" x1="0" y1="0" x2="952" y2="0"><stop offset="0.0000" stop-color="#c9c9c9"/><stop offset="0.0357" stop-color="#cdcdcd"/><stop offset="0.0714" stop-color="#d1d1d1"/><stop offset="0.1071" stop-color="#d5d5d5"/><stop offset="0.1429" stop-color="#d8d8d8"/><stop offset="0.1786" stop-color="#dbdbdb"/><stop offset="0.2143" stop-color="#dddddd"/><stop offset="0.2500" stop-color="#dfdfdf"/><stop offset="0.2857" stop-color="#e0e0e0"/><stop offset="0.3214" stop-color="#e1e1e1"/><stop offset="0.3571" stop-color="#e1e1e1"/><stop offset="0.3929" stop-color="#e2e2e2"/><stop offset="0.4286" stop-color="#e2e2e2"/><stop offset="0.4643" stop-color="#e2e2e2"/><stop offset="0.5000" stop-color="#e2e2e2"/><stop offset="0.5357" stop-color="#e1e1e1"/><stop offset="0.5714" stop-color="#e0e0e0"/><stop offset="0.6071" stop-color="#dfdfdf"/><stop offset="0.6429" stop-color="#dddddd"/><stop offset="0.6786" stop-color="#dbdbdb"/><stop offset="0.7143" stop-color="#d9d9d9"/><stop offset="0.7500" stop-color="#d7d7d7"/><stop offset="0.7857" stop-color="#d5d5d5"/><stop offset="0.8214" stop-color="#d2d2d2"/><stop offset="0.8571" stop-color="#d0d0d0"/><stop offset="0.8929" stop-color="#cfcfcf"/><stop offset="0.9286" stop-color="#cdcdcd"/><stop offset="0.9643" stop-color="#c9c9c9"/><stop offset="1.0000" stop-color="#c5c5c5"/></linearGradient>
<linearGradient id="b51" gradientUnits="userSpaceOnUse" x1="0" y1="0" x2="952" y2="0"><stop offset="0.0000" stop-color="#c9c9c9"/><stop offset="0.0357" stop-color="#cdcdcd"/><stop offset="0.0714" stop-color="#d1d1d1"/><stop offset="0.1071" stop-color="#d4d4d4"/><stop offset="0.1429" stop-color="#d7d7d7"/><stop offset="0.1786" stop-color="#dadada"/><stop offset="0.2143" stop-color="#dcdcdc"/><stop offset="0.2500" stop-color="#dedede"/><stop offset="0.2857" stop-color="#dfdfdf"/><stop offset="0.3214" stop-color="#e0e0e0"/><stop offset="0.3571" stop-color="#e1e1e1"/><stop offset="0.3929" stop-color="#e1e1e1"/><stop offset="0.4286" stop-color="#e2e2e2"/><stop offset="0.4643" stop-color="#e2e2e2"/><stop offset="0.5000" stop-color="#e1e1e1"/><stop offset="0.5357" stop-color="#e0e0e0"/><stop offset="0.5714" stop-color="#e0e0e0"/><stop offset="0.6071" stop-color="#dedede"/><stop offset="0.6429" stop-color="#dddddd"/><stop offset="0.6786" stop-color="#dbdbdb"/><stop offset="0.7143" stop-color="#d9d9d9"/><stop offset="0.7500" stop-color="#d6d6d6"/><stop offset="0.7857" stop-color="#d4d4d4"/><stop offset="0.8214" stop-color="#d2d2d2"/><stop offset="0.8571" stop-color="#d0d0d0"/><stop offset="0.8929" stop-color="#cecece"/><stop offset="0.9286" stop-color="#cccccc"/><stop offset="0.9643" stop-color="#c8c8c8"/><stop offset="1.0000" stop-color="#c4c4c4"/></linearGradient>
<linearGradient id="b52" gradientUnits="userSpaceOnUse" x1="0" y1="0" x2="952" y2="0"><stop offset="0.0000" stop-color="#c8c8c8"/><stop offset="0.0357" stop-color="#cdcdcd"/><stop offset="0.0714" stop-color="#d0d0d0"/><stop offset="0.1071" stop-color="#d3d3d3"/><stop offset="0.1429" stop-color="#d7d7d7"/><stop offset="0.1786" stop-color="#d9d9d9"/><stop offset="0.2143" stop-color="#dcdcdc"/><stop offset="0.2500" stop-color="#dedede"/><stop offset="0.2857" stop-color="#dfdfdf"/><stop offset="0.3214" stop-color="#e0e0e0"/><stop offset="0.3571" stop-color="#e0e0e0"/><stop offset="0.3929" stop-color="#e1e1e1"/><stop offset="0.4286" stop-color="#e1e1e1"/><stop offset="0.4643" stop-color="#e1e1e1"/><stop offset="0.5000" stop-color="#e0e0e0"/><stop offset="0.5357" stop-color="#e0e0e0"/><stop offset="0.5714" stop-color="#dfdfdf"/><stop offset="0.6071" stop-color="#dedede"/><stop offset="0.6429" stop-color="#dcdcdc"/><stop offset="0.6786" stop-color="#dadada"/><stop offset="0.7143" stop-color="#d8d8d8"/><stop offset="0.7500" stop-color="#d6d6d6"/><stop offset="0.7857" stop-color="#d3d3d3"/><stop offset="0.8214" stop-color="#d1d1d1"/><stop offset="0.8571" stop-color="#cfcfcf"/><stop offset="0.8929" stop-color="#cdcdcd"/><stop offset="0.9286" stop-color="#cbcbcb"/><stop offset="0.9643" stop-color="#c7c7c7"/><stop offset="1.0000" stop-color="#c3c3c3"/></linearGradient>
<linearGradient id="b53" gradientUnits="userSpaceOnUse" x1="0" y1="0" x2="952" y2="0"><stop offset="0.0000" stop-color="#c7c7c7"/><stop offset="0.0357" stop-color="#cdcdcd"/><stop offset="0.0714" stop-color="#d0d0d0"/><stop offset="0.1071" stop-color="#d3d3d3"/><stop offset="0.1429" stop-color="#d6d6d6"/><stop offset="0.1786" stop-color="#d9d9d9"/><stop offset="0.2143" stop-color="#dbdbdb"/><stop offset="0.2500" stop-color="#dddddd"/><stop offset="0.2857" stop-color="#dedede"/><stop offset="0.3214" stop-color="#dfdfdf"/><stop offset="0.3571" stop-color="#e0e0e0"/><stop offset="0.3929" stop-color="#e0e0e0"/><stop offset="0.4286" stop-color="#e1e1e1"/><stop offset="0.4643" stop-color="#e0e0e0"/><stop offset="0.5000" stop-color="#e0e0e0"/><stop offset="0.5357" stop-color="#dfdfdf"/><stop offset="0.5714" stop-color="#dedede"/><stop offset="0.6071" stop-color="#dddddd"/><stop offset="0.6429" stop-color="#dbdbdb"/><stop offset="0.6786" stop-color="#d9d9d9"/><stop offset="0.7143" stop-color="#d7d7d7"/><stop offset="0.7500" stop-color="#d5d5d5"/><stop offset="0.7857" stop-color="#d3d3d3"/><stop offset="0.8214" stop-color="#d0d0d0"/><stop offset="0.8571" stop-color="#cecece"/><stop offset="0.8929" stop-color="#cccccc"/><stop offset="0.9286" stop-color="#cacaca"/><stop offset="0.9643" stop-color="#c7c7c7"/><stop offset="1.0000" stop-color="#c2c2c2"/></linearGradient>
<linearGradient id="b54" gradientUnits="userSpaceOnUse" x1="0" y1="0" x2="952" y2="0"><stop offset="0.0000" stop-color="#c7c7c7"/><stop offset="0.0357" stop-color="#cccccc"/><stop offset="0.0714" stop-color="#d0d0d0"/><stop offset="0.1071" stop-color="#d2d2d2"/><stop offset="0.1429" stop-color="#d5d5d5"/><stop offset="0.1786" stop-color="#d8d8d8"/><stop offset="0.2143" stop-color="#dadada"/><stop offset="0.2500" stop-color="#dcdcdc"/><stop offset="0.2857" stop-color="#dddddd"/><stop offset="0.3214" stop-color="#dedede"/><stop offset="0.3571" stop-color="#dfdfdf"/><stop offset="0.3929" stop-color="#e0e0e0"/><stop offset="0.4286" stop-color="#e0e0e0"/><stop offset="0.4643" stop-color="#e0e0e0"/><stop offset="0.5000" stop-color="#dfdfdf"/><stop offset="0.5357" stop-color="#dedede"/><stop offset="0.5714" stop-color="#dddddd"/><stop offset="0.6071" stop-color="#dcdcdc"/><stop offset="0.6429" stop-color="#dbdbdb"/><stop offset="0.6786" stop-color="#d8d8d8"/><stop offset="0.7143" stop-color="#d6d6d6"/><stop offset="0.7500" stop-color="#d4d4d4"/><stop offset="0.7857" stop-color="#d2d2d2"/><stop offset="0.8214" stop-color="#cfcfcf"/><stop offset="0.8571" stop-color="#cdcdcd"/><stop offset="0.8929" stop-color="#cccccc"/><stop offset="0.9286" stop-color="#cacaca"/><stop offset="0.9643" stop-color="#c6c6c6"/><stop offset="1.0000" stop-color="#c1c1c1"/></linearGradient>
<linearGradient id="b55" gradientUnits="userSpaceOnUse" x1="0" y1="0" x2="952" y2="0"><stop offset="0.0000" stop-color="#c7c7c7"/><stop offset="0.0357" stop-color="#cccccc"/><stop offset="0.0714" stop-color="#cfcfcf"/><stop offset="0.1071" stop-color="#d2d2d2"/><stop offset="0.1429" stop-color="#d5d5d5"/><stop offset="0.1786" stop-color="#d7d7d7"/><stop offset="0.2143" stop-color="#d9d9d9"/><stop offset="0.2500" stop-color="#dbdbdb"/><stop offset="0.2857" stop-color="#dddddd"/><stop offset="0.3214" stop-color="#dedede"/><stop offset="0.3571" stop-color="#dedede"/><stop offset="0.3929" stop-color="#dfdfdf"/><stop offset="0.4286" stop-color="#e0e0e0"/><stop offset="0.4643" stop-color="#dfdfdf"/><stop offset="0.5000" stop-color="#dedede"/><stop offset="0.5357" stop-color="#dedede"/><stop offset="0.5714" stop-color="#dddddd"/><stop offset="0.6071" stop-color="#dbdbdb"/><stop offset="0.6429" stop-color="#dadada"/><stop offset="0.6786" stop-color="#d8d8d8"/><stop offset="0.7143" stop-color="#d5d5d5"/><stop offset="0.7500" stop-color="#d3d3d3"/><stop offset="0.7857" stop-color="#d1d1d1"/><stop offset="0.8214" stop-color="#cfcfcf"/><stop offset="0.8571" stop-color="#cccccc"/><stop offset="0.8929" stop-color="#cbcbcb"/><stop offset="0.9286" stop-color="#c9c9c9"/><stop offset="0.9643" stop-color="#c5c5c5"/><stop offset="1.0000" stop-color="#c1c1c1"/></linearGradient>
<linearGradient id="b56" gradientUnits="userSpaceOnUse" x1="0" y1="0" x2="952" y2="0"><stop offset="0.0000" stop-color="#c8c8c8"/><stop offset="0.0357" stop-color="#cccccc"/><stop offset="0.0714" stop-color="#cfcfcf"/><stop offset="0.1071" stop-color="#d1d1d1"/><stop offset="0.1429" stop-color="#d4d4d4"/><stop offset="0.1786" stop-color="#d7d7d7"/><stop offset="0.2143" stop-color="#d9d9d9"/><stop offset="0.2500" stop-color="#dadada"/><stop offset="0.2857" stop-color="#dcdcdc"/><stop offset="0.3214" stop-color="#dddddd"/><stop offset="0.3571" stop-color="#dedede"/><stop offset="0.3929" stop-color="#dedede"/><stop offset="0.4286" stop-color="#dfdfdf"/><stop offset="0.4643" stop-color="#dfdfdf"/><stop offset="0.5000" stop-color="#dedede"/><stop offset="0.5357" stop-color="#dddddd"/><stop offset="0.5714" stop-color="#dcdcdc"/><stop offset="0.6071" stop-color="#dadada"/><stop offset="0.6429" stop-color="#d9d9d9"/><stop offset="0.6786" stop-color="#d7d7d7"/><stop offset="0.7143" stop-color="#d5d5d5"/><stop offset="0.7500" stop-color="#d3d3d3"/><stop offset="0.7857" stop-color="#d0d0d0"/><stop offset="0.8214" stop-color="#cecece"/><stop offset="0.8571" stop-color="#cccccc"/><stop offset="0.8929" stop-color="#cacaca"/><stop offset="0.9286" stop-color="#c8c8c8"/><stop offset="0.9643" stop-color="#c4c4c4"/><stop offset="1.0000" stop-color="#c0c0c0"/></linearGradient>
<linearGradient id="b57" gradientUnits="userSpaceOnUse" x1="0" y1="0" x2="952" y2="0"><stop offset="0.0000" stop-color="#c9c9c9"/><stop offset="0.0357" stop-color="#cccccc"/><stop offset="0.0714" stop-color="#cecece"/><stop offset="0.1071" stop-color="#d1d1d1"/><stop offset="0.1429" stop-color="#d4d4d4"/><stop offset="0.1786" stop-color="#d6d6d6"/><stop offset="0.2143" stop-color="#d8d8d8"/><stop offset="0.2500" stop-color="#dadada"/><stop offset="0.2857" stop-color="#dbdbdb"/><stop offset="0.3214" stop-color="#dcdcdc"/><stop offset="0.3571" stop-color="#dddddd"/><stop offset="0.3929" stop-color="#dedede"/><stop offset="0.4286" stop-color="#dedede"/><stop offset="0.4643" stop-color="#dedede"/><stop offset="0.5000" stop-color="#dddddd"/><stop offset="0.5357" stop-color="#dcdcdc"/><stop offset="0.5714" stop-color="#dbdbdb"/><stop offset="0.6071" stop-color="#dadada"/><stop offset="0.6429" stop-color="#d8d8d8"/><stop offset="0.6786" stop-color="#d6d6d6"/><stop offset="0.7143" stop-color="#d4d4d4"/><stop offset="0.7500" stop-color="#d2d2d2"/><stop offset="0.7857" stop-color="#cfcfcf"/><stop offset="0.8214" stop-color="#cdcdcd"/><stop offset="0.8571" stop-color="#cbcbcb"/><stop offset="0.8929" stop-color="#c9c9c9"/><stop offset="0.9286" stop-color="#c7c7c7"/><stop offset="0.9643" stop-color="#c4c4c4"/><stop offset="1.0000" stop-color="#c0c0c0"/></linearGradient>
<linearGradient id="b58" gradientUnits="userSpaceOnUse" x1="0" y1="0" x2="952" y2="0"><stop offset="0.0000" stop-color="#c9c9c9"/><stop offset="0.0357" stop-color="#cbcbcb"/><stop offset="0.0714" stop-color="#cecece"/><stop offset="0.1071" stop-color="#d0d0d0"/><stop offset="0.1429" stop-color="#d3d3d3"/><stop offset="0.1786" stop-color="#d5d5d5"/><stop offset="0.2143" stop-color="#d7d7d7"/><stop offset="0.2500" stop-color="#d9d9d9"/><stop offset="0.2857" stop-color="#dadada"/><stop offset="0.3214" stop-color="#dbdbdb"/><stop offset="0.3571" stop-color="#dcdcdc"/><stop offset="0.3929" stop-color="#dddddd"/><stop offset="0.4286" stop-color="#dddddd"/><stop offset="0.4643" stop-color="#dddddd"/><stop offset="0.5000" stop-color="#dcdcdc"/><stop offset="0.5357" stop-color="#dbdbdb"/><stop offset="0.5714" stop-color="#dadada"/><stop offset="0.6071" stop-color="#d9d9d9"/><stop offset="0.6429" stop-color="#d7d7d7"/><stop offset="0.6786" stop-color="#d5d5d5"/><stop offset="0.7143" stop-color="#d3d3d3"/><stop offset="0.7500" stop-color="#d1d1d1"/><stop offset="0.7857" stop-color="#cfcfcf"/><stop offset="0.8214" stop-color="#cccccc"/><stop offset="0.8571" stop-color="#cacaca"/><stop offset="0.8929" stop-color="#c8c8c8"/><stop offset="0.9286" stop-color="#c6c6c6"/><stop offset="0.9643" stop-color="#c3c3c3"/><stop offset="1.0000" stop-color="#bfbfbf"/></linearGradient>
<linearGradient id="b59" gradientUnits="userSpaceOnUse" x1="0" y1="0" x2="952" y2="0"><stop offset="0.0000" stop-color="#c9c9c9"/><stop offset="0.0357" stop-color="#cbcbcb"/><stop offset="0.0714" stop-color="#cdcdcd"/><stop offset="0.1071" stop-color="#d0d0d0"/><stop offset="0.1429" stop-color="#d2d2d2"/><stop offset="0.1786" stop-color="#d4d4d4"/><stop offset="0.2143" stop-color="#d6d6d6"/><stop offset="0.2500" stop-color="#d8d8d8"/><stop offset="0.2857" stop-color="#d9d9d9"/><stop offset="0.3214" stop-color="#dbdbdb"/><stop offset="0.3571" stop-color="#dcdcdc"/><stop offset="0.3929" stop-color="#dcdcdc"/><stop offset="0.4286" stop-color="#dddddd"/><stop offset="0.4643" stop-color="#dcdcdc"/><stop offset="0.5000" stop-color="#dcdcdc"/><stop offset="0.5357" stop-color="#dbdbdb"/><stop offset="0.5714" stop-color="#d9d9d9"/><stop offset="0.6071" stop-color="#d8d8d8"/><stop offset="0.6429" stop-color="#d6d6d6"/><stop offset="0.6786" stop-color="#d4d4d4"/><stop offset="0.7143" stop-color="#d2d2d2"/><stop offset="0.7500" stop-color="#d0d0d0"/><stop offset="0.7857" stop-color="#cecece"/><stop offset="0.8214" stop-color="#cccccc"/><stop offset="0.8571" stop-color="#c9c9c9"/><stop offset="0.8929" stop-color="#c7c7c7"/><stop offset="0.9286" stop-color="#c5c5c5"/><stop offset="0.9643" stop-color="#c2c2c2"/><stop offset="1.0000" stop-color="#bfbfbf"/></linearGradient>
<linearGradient id="b60" gradientUnits="userSpaceOnUse" x1="0" y1="0" x2="952" y2="0"><stop offset="0.0000" stop-color="#c8c8c8"/><stop offset="0.0357" stop-color="#cacaca"/><stop offset="0.0714" stop-color="#cdcdcd"/><stop offset="0.1071" stop-color="#cfcfcf"/><stop offset="0.1429" stop-color="#d2d2d2"/><stop offset="0.1786" stop-color="#d4d4d4"/><stop offset="0.2143" stop-color="#d5d5d5"/><stop offset="0.2500" stop-color="#d7d7d7"/><stop offset="0.2857" stop-color="#d8d8d8"/><stop offset="0.3214" stop-color="#dadada"/><stop offset="0.3571" stop-color="#dbdbdb"/><stop offset="0.3929" stop-color="#dcdcdc"/><stop offset="0.4286" stop-color="#dcdcdc"/><stop offset="0.4643" stop-color="#dcdcdc"/><stop offset="0.5000" stop-color="#dbdbdb"/><stop offset="0.5357" stop-color="#dadada"/><stop offset="0.5714" stop-color="#d9d9d9"/><stop offset="0.6071" stop-color="#d7d7d7"/><stop offset="0.6429" stop-color="#d5d5d5"/><stop offset="0.6786" stop-color="#d3d3d3"/><stop offset="0.7143" stop-color="#d1d1d1"/><stop offset="0.7500" stop-color="#cfcfcf"/><stop offset="0.7857" stop-color="#cdcdcd"/><stop offset="0.8214" stop-color="#cbcbcb"/><stop offset="0.8571" stop-color="#c9c9c9"/><stop offset="0.8929" stop-color="#c7c7c7"/><stop offset="0.9286" stop-color="#c5c5c5"/><stop offset="0.9643" stop-color="#c2c2c2"/><stop offset="1.0000" stop-color="#bebebe"/></linearGradient>
<linearGradient id="b61" gradientUnits="userSpaceOnUse" x1="0" y1="0" x2="952" y2="0"><stop offset="0.0000" stop-color="#c7c7c7"/><stop offset="0.0357" stop-color="#cacaca"/><stop offset="0.0714" stop-color="#cccccc"/><stop offset="0.1071" stop-color="#cfcfcf"/><stop offset="0.1429" stop-color="#d1d1d1"/><stop offset="0.1786" stop-color="#d3d3d3"/><stop offset="0.2143" stop-color="#d5d5d5"/><stop offset="0.2500" stop-color="#d6d6d6"/><stop offset="0.2857" stop-color="#d8d8d8"/><stop offset="0.3214" stop-color="#d9d9d9"/><stop offset="0.3571" stop-color="#dadada"/><stop offset="0.3929" stop-color="#dbdbdb"/><stop offset="0.4286" stop-color="#dbdbdb"/><stop offset="0.4643" stop-color="#dbdbdb"/><stop offset="0.5000" stop-color="#dadada"/><stop offset="0.5357" stop-color="#d9d9d9"/><stop offset="0.5714" stop-color="#d8d8d8"/><stop offset="0.6071" stop-color="#d6d6d6"/><stop offset="0.6429" stop-color="#d5d5d5"/><stop offset="0.6786" stop-color="#d3d3d3"/><stop offset="0.7143" stop-color="#d0d0d0"/><stop offset="0.7500" stop-color="#cecece"/><stop offset="0.7857" stop-color="#cccccc"/><stop offset="0.8214" stop-color="#cacaca"/><stop offset="0.8571" stop-color="#c8c8c8"/><stop offset="0.8929" stop-color="#c6c6c6"/><stop offset="0.9286" stop-color="#c4c4c4"/><stop offset="0.9643" stop-color="#c1c1c1"/><stop offset="1.0000" stop-color="#bebebe"/></linearGradient>
</defs>
<g shape-rendering="crispEdges"><rect x="0" y="2" width="952" height="8" fill="url(#b0)"/>
<rect x="0" y="10" width="952" height="8" fill="url(#b1)"/>
<rect x="0" y="18" width="952" height="8" fill="url(#b2)"/>
<rect x="0" y="26" width="952" height="8" fill="url(#b3)"/>
<rect x="0" y="34" width="952" height="8" fill="url(#b4)"/>
<rect x="0" y="42" width="952" height="8" fill="url(#b5)"/>
<rect x="0" y="50" width="952" height="8" fill="url(#b6)"/>
<rect x="0" y="58" width="952" height="8" fill="url(#b7)"/>
<rect x="0" y="66" width="952" height="8" fill="url(#b8)"/>
<rect x="0" y="74" width="952" height="8" fill="url(#b9)"/>
<rect x="0" y="82" width="952" height="8" fill="url(#b10)"/>
<rect x="0" y="90" width="952" height="8" fill="url(#b11)"/>
<rect x="0" y="98" width="952" height="8" fill="url(#b12)"/>
<rect x="0" y="106" width="952" height="8" fill="url(#b13)"/>
<rect x="0" y="114" width="952" height="8" fill="url(#b14)"/>
<rect x="0" y="122" width="952" height="8" fill="url(#b15)"/>
<rect x="0" y="130" width="952" height="8" fill="url(#b16)"/>
<rect x="0" y="138" width="952" height="8" fill="url(#b17)"/>
<rect x="0" y="146" width="952" height="8" fill="url(#b18)"/>
<rect x="0" y="154" width="952" height="8" fill="url(#b19)"/>
<rect x="0" y="162" width="952" height="8" fill="url(#b20)"/>
<rect x="0" y="170" width="952" height="8" fill="url(#b21)"/>
<rect x="0" y="178" width="952" height="8" fill="url(#b22)"/>
<rect x="0" y="186" width="952" height="8" fill="url(#b23)"/>
<rect x="0" y="194" width="952" height="8" fill="url(#b24)"/>
<rect x="0" y="202" width="952" height="8" fill="url(#b25)"/>
<rect x="0" y="210" width="952" height="8" fill="url(#b26)"/>
<rect x="0" y="218" width="952" height="8" fill="url(#b27)"/>
<rect x="0" y="226" width="952" height="8" fill="url(#b28)"/>
<rect x="0" y="234" width="952" height="8" fill="url(#b29)"/>
<rect x="0" y="242" width="952" height="8" fill="url(#b30)"/>
<rect x="0" y="250" width="952" height="8" fill="url(#b31)"/>
<rect x="0" y="258" width="952" height="8" fill="url(#b32)"/>
<rect x="0" y="266" width="952" height="8" fill="url(#b33)"/>
<rect x="0" y="274" width="952" height="8" fill="url(#b34)"/>
<rect x="0" y="282" width="952" height="8" fill="url(#b35)"/>
<rect x="0" y="290" width="952" height="8" fill="url(#b36)"/>
<rect x="0" y="298" width="952" height="8" fill="url(#b37)"/>
<rect x="0" y="306" width="952" height="8" fill="url(#b38)"/>
<rect x="0" y="314" width="952" height="8" fill="url(#b39)"/>
<rect x="0" y="322" width="952" height="8" fill="url(#b40)"/>
<rect x="0" y="330" width="952" height="8" fill="url(#b41)"/>
<rect x="0" y="338" width="952" height="8" fill="url(#b42)"/>
<rect x="0" y="346" width="952" height="8" fill="url(#b43)"/>
<rect x="0" y="354" width="952" height="8" fill="url(#b44)"/>
<rect x="0" y="362" width="952" height="8" fill="url(#b45)"/>
<rect x="0" y="370" width="952" height="8" fill="url(#b46)"/>
<rect x="0" y="378" width="952" height="8" fill="url(#b47)"/>
<rect x="0" y="386" width="952" height="8" fill="url(#b48)"/>
<rect x="0" y="394" width="952" height="8" fill="url(#b49)"/>
<rect x="0" y="402" width="952" height="8" fill="url(#b50)"/>
<rect x="0" y="410" width="952" height="8" fill="url(#b51)"/>
<rect x="0" y="418" width="952" height="8" fill="url(#b52)"/>
<rect x="0" y="426" width="952" height="8" fill="url(#b53)"/>
<rect x="0" y="434" width="952" height="8" fill="url(#b54)"/>
<rect x="0" y="442" width="952" height="8" fill="url(#b55)"/>
<rect x="0" y="450" width="952" height="8" fill="url(#b56)"/>
<rect x="0" y="458" width="952" height="8" fill="url(#b57)"/>
<rect x="0" y="466" width="952" height="8" fill="url(#b58)"/>
<rect x="0" y="474" width="952" height="8" fill="url(#b59)"/>
<rect x="0" y="482" width="952" height="8" fill="url(#b60)"/>
<rect x="0" y="490" width="952" height="7" fill="url(#b61)"/></g>
<rect x="0" y="1" width="952" height="1" fill="#bdbdbd"/>
<rect x="28" y="0" width="1" height="1" fill="#dcdcdc"/><rect x="96" y="0" width="1" height="1" fill="#dcdcdc"/><rect x="164" y="0" width="1" height="1" fill="#dcdcdc"/><rect x="232" y="0" width="1" height="1" fill="#dcdcdc"/><rect x="300" y="0" width="1" height="1" fill="#dcdcdc"/><rect x="368" y="0" width="1" height="1" fill="#dcdcdc"/><rect x="436" y="0" width="1" height="1" fill="#dcdcdc"/><rect x="504" y="0" width="1" height="1" fill="#dcdcdc"/><rect x="572" y="0" width="1" height="1" fill="#dcdcdc"/><rect x="640" y="0" width="1" height="1" fill="#dcdcdc"/><rect x="708" y="0" width="1" height="1" fill="#dcdcdc"/><rect x="776" y="0" width="1" height="1" fill="#dcdcdc"/><rect x="844" y="0" width="1" height="1" fill="#dcdcdc"/><rect x="912" y="0" width="1" height="1" fill="#dcdcdc"/>
<rect x="227" y="53" width="1" height="384.5" fill="url(#gl)"/>
<rect x="328" y="53" width="1" height="384.5" fill="url(#gl)"/>
<rect x="429" y="53" width="1" height="384.5" fill="url(#gl)"/>
<rect x="529" y="53" width="1" height="384.5" fill="url(#gl)"/>
<rect x="630" y="53" width="1" height="384.5" fill="url(#gl)"/>
<rect x="731" y="53" width="1" height="384.5" fill="url(#gl)"/>
<rect x="831" y="53" width="1" height="384.5" fill="url(#gl)"/>
<rect x="932" y="53" width="1" height="384.5" fill="url(#gl)"/>
<rect x="127" y="60" width="741" height="22" fill="#4f81bd" fill-opacity="0.09"/>
<rect x="127" y="61" width="740" height="20" fill="#4f81bd" fill-opacity="0.84"/>
<rect x="127" y="95" width="616" height="22" fill="#4f81bd" fill-opacity="0.09"/>
<rect x="127" y="96" width="615" height="20" fill="#4f81bd" fill-opacity="0.84"/>
<rect x="127" y="130" width="613" height="22" fill="#4f81bd" fill-opacity="0.09"/>
<rect x="127" y="131" width="612" height="20" fill="#4f81bd" fill-opacity="0.84"/>
<rect x="127" y="165" width="563" height="22" fill="#4f81bd" fill-opacity="0.09"/>
<rect x="127" y="166" width="562" height="20" fill="#4f81bd" fill-opacity="0.84"/>
<rect x="127" y="199" width="482" height="23" fill="#4f81bd" fill-opacity="0.09"/>
<rect x="127" y="200" width="481" height="21" fill="#4f81bd" fill-opacity="0.84"/>
<rect x="127" y="234" width="462" height="22" fill="#4f81bd" fill-opacity="0.09"/>
<rect x="127" y="235" width="461" height="20" fill="#4f81bd" fill-opacity="0.84"/>
<rect x="127" y="269" width="462" height="22" fill="#4f81bd" fill-opacity="0.09"/>
<rect x="127" y="270" width="461" height="20" fill="#4f81bd" fill-opacity="0.84"/>
<rect x="127" y="304" width="437" height="22" fill="#4f81bd" fill-opacity="0.09"/>
<rect x="127" y="305" width="436" height="20" fill="#4f81bd" fill-opacity="0.84"/>
<rect x="127" y="339" width="385" height="22" fill="#4f81bd" fill-opacity="0.09"/>
<rect x="127" y="340" width="384" height="20" fill="#4f81bd" fill-opacity="0.84"/>
<rect x="127" y="374" width="334" height="22" fill="#4f81bd" fill-opacity="0.09"/>
<rect x="127" y="375" width="333" height="20" fill="#4f81bd" fill-opacity="0.84"/>
<rect x="127" y="409" width="285" height="22" fill="#4f81bd" fill-opacity="0.09"/>
<rect x="127" y="410" width="284" height="20" fill="#4f81bd" fill-opacity="0.84"/>
<rect x="126" y="54" width="2" height="383.5" fill="#333333"/>
</svg>
<svg width="952" height="497" viewBox="0 0 952 497" style="position:absolute;left:0;top:0;will-change:transform;">
<text class="c" x="67.4" y="75.1" textLength="46.2" lengthAdjust="spacingAndGlyphs">TUNISIE</text>
<text class="c" x="68.6" y="109.1" textLength="45.0" lengthAdjust="spacingAndGlyphs">MAROC</text>
<text class="c" x="58.0" y="144.1" textLength="55.6" lengthAdjust="spacingAndGlyphs">VIETNAM</text>
<text class="c" x="60.6" y="179.1" textLength="53.0" lengthAdjust="spacingAndGlyphs">TURQUIE</text>
<text class="c" x="85.5" y="214.1" textLength="28.1" lengthAdjust="spacingAndGlyphs">INDE</text>
<text class="c" x="77.7" y="249.1" textLength="35.9" lengthAdjust="spacingAndGlyphs">CHINE</text>
<text class="c" x="7.4" y="284.1" textLength="106.2" lengthAdjust="spacingAndGlyphs">TOUTES ORIGINES</text>
<text class="c" x="43.3" y="319.1" textLength="70.3" lengthAdjust="spacingAndGlyphs">CAMBODGE</text>
<text class="c" x="47.5" y="354.1" textLength="66.1" lengthAdjust="spacingAndGlyphs">MYANMAR</text>
<text class="c" x="33.8" y="388.1" textLength="79.8" lengthAdjust="spacingAndGlyphs">BANGLADESH</text>
<text class="c" x="54.9" y="423.1" textLength="58.7" lengthAdjust="spacingAndGlyphs">PAKISTAN</text>
<text class="d" x="859.1" y="76.3" text-anchor="end">36,78</text>
<text class="d" x="734.1" y="111.3" text-anchor="end">30,56</text>
<text class="d" x="731.1" y="146.3" text-anchor="end">30,40</text>
<text class="d" x="681.1" y="181.3" text-anchor="end">27,93</text>
<text class="d" x="600.1" y="215.8" text-anchor="end">23,92</text>
<text class="d" x="580.1" y="250.3" text-anchor="end">22,91</text>
<text class="d" x="580.1" y="285.3" text-anchor="end">22,90</text>
<text class="d" x="555.1" y="320.3" text-anchor="end">21,67</text>
<text class="d" x="503.1" y="355.3" text-anchor="end">19,10</text>
<text class="d" x="452.1" y="390.3" text-anchor="end">16,54</text>
<text class="d" x="403.1" y="425.3" text-anchor="end">14,11</text>
<text class="a" x="127.5" y="462" text-anchor="middle">0</text>
<text class="a" x="228.2" y="462" text-anchor="middle">5</text>
<text class="a" x="328.9" y="462" text-anchor="middle">10</text>
<text class="a" x="429.5" y="462" text-anchor="middle">15</text>
<text class="a" x="530.2" y="462" text-anchor="middle">20</text>
<text class="a" x="630.9" y="462" text-anchor="middle">25</text>
<text class="a" x="731.6" y="462" text-anchor="middle">30</text>
<text class="a" x="832.2" y="462" text-anchor="middle">35</text>
<text class="a" x="932.9" y="462" text-anchor="middle">40</text>
<text class="t" x="148.8" y="30.7" textLength="31.3" lengthAdjust="spacingAndGlyphs">Prix</text>
<text class="t" x="184.6" y="30.7" textLength="64.6" lengthAdjust="spacingAndGlyphs">moyens</text>
<text class="t" x="254.0" y="30.7" textLength="26.7" lengthAdjust="spacingAndGlyphs">des</text>
<text class="t" x="285.5" y="30.7" textLength="88.4" lengthAdjust="spacingAndGlyphs">vêtements</text>
<text class="t" x="378.2" y="30.7" textLength="73.6" lengthAdjust="spacingAndGlyphs">importés</text>
<text class="t" x="456.6" y="30.7" textLength="26.3" lengthAdjust="spacingAndGlyphs">par</text>
<text class="t" x="488.4" y="30.7" textLength="32.4" lengthAdjust="spacingAndGlyphs">l'UE</text>
<text class="t" x="524.9" y="30.7" textLength="20.2" lengthAdjust="spacingAndGlyphs">au</text>
<text class="t" x="550.4" y="30.7" textLength="27.0" lengthAdjust="spacingAndGlyphs">1er</text>
<text class="t" x="581.5" y="30.7" textLength="75.3" lengthAdjust="spacingAndGlyphs">semestre</text>
<text class="t" x="661.4" y="30.7" textLength="39.8" lengthAdjust="spacingAndGlyphs">2023</text>
<text class="t" x="705.6" y="30.7" textLength="7.0" lengthAdjust="spacingAndGlyphs">-</text>
<text class="t" x="716.5" y="30.7" textLength="89.3" lengthAdjust="spacingAndGlyphs">(euro/kilo)</text>
<rect x="0" y="474" width="443" height="1" fill="#c3c3c3"/>
<rect x="442" y="475" width="1" height="22" fill="#c3c3c3"/>
<text class="s" x="9.6" y="493.5" textLength="46.4" lengthAdjust="spacingAndGlyphs">Source:</text>
<text class="s" x="61.3" y="493.5" textLength="51.4" lengthAdjust="spacingAndGlyphs">Eurostat</text>
<text class="s" x="118.5" y="493.5" textLength="4.5" lengthAdjust="spacingAndGlyphs">-</text>
<text class="s" x="126.0" y="493.5" textLength="69.4" lengthAdjust="spacingAndGlyphs">Traitement</text>
<text class="s" x="200.4" y="493.5" textLength="68.8" lengthAdjust="spacingAndGlyphs">statistique:</text>
<text class="s" x="274.7" y="493.5" textLength="84.1" lengthAdjust="spacingAndGlyphs">Jean-François</text>
<text class="s" x="364.8" y="493.5" textLength="63.6" lengthAdjust="spacingAndGlyphs">Limantour</text>
</svg>
</body></html>
